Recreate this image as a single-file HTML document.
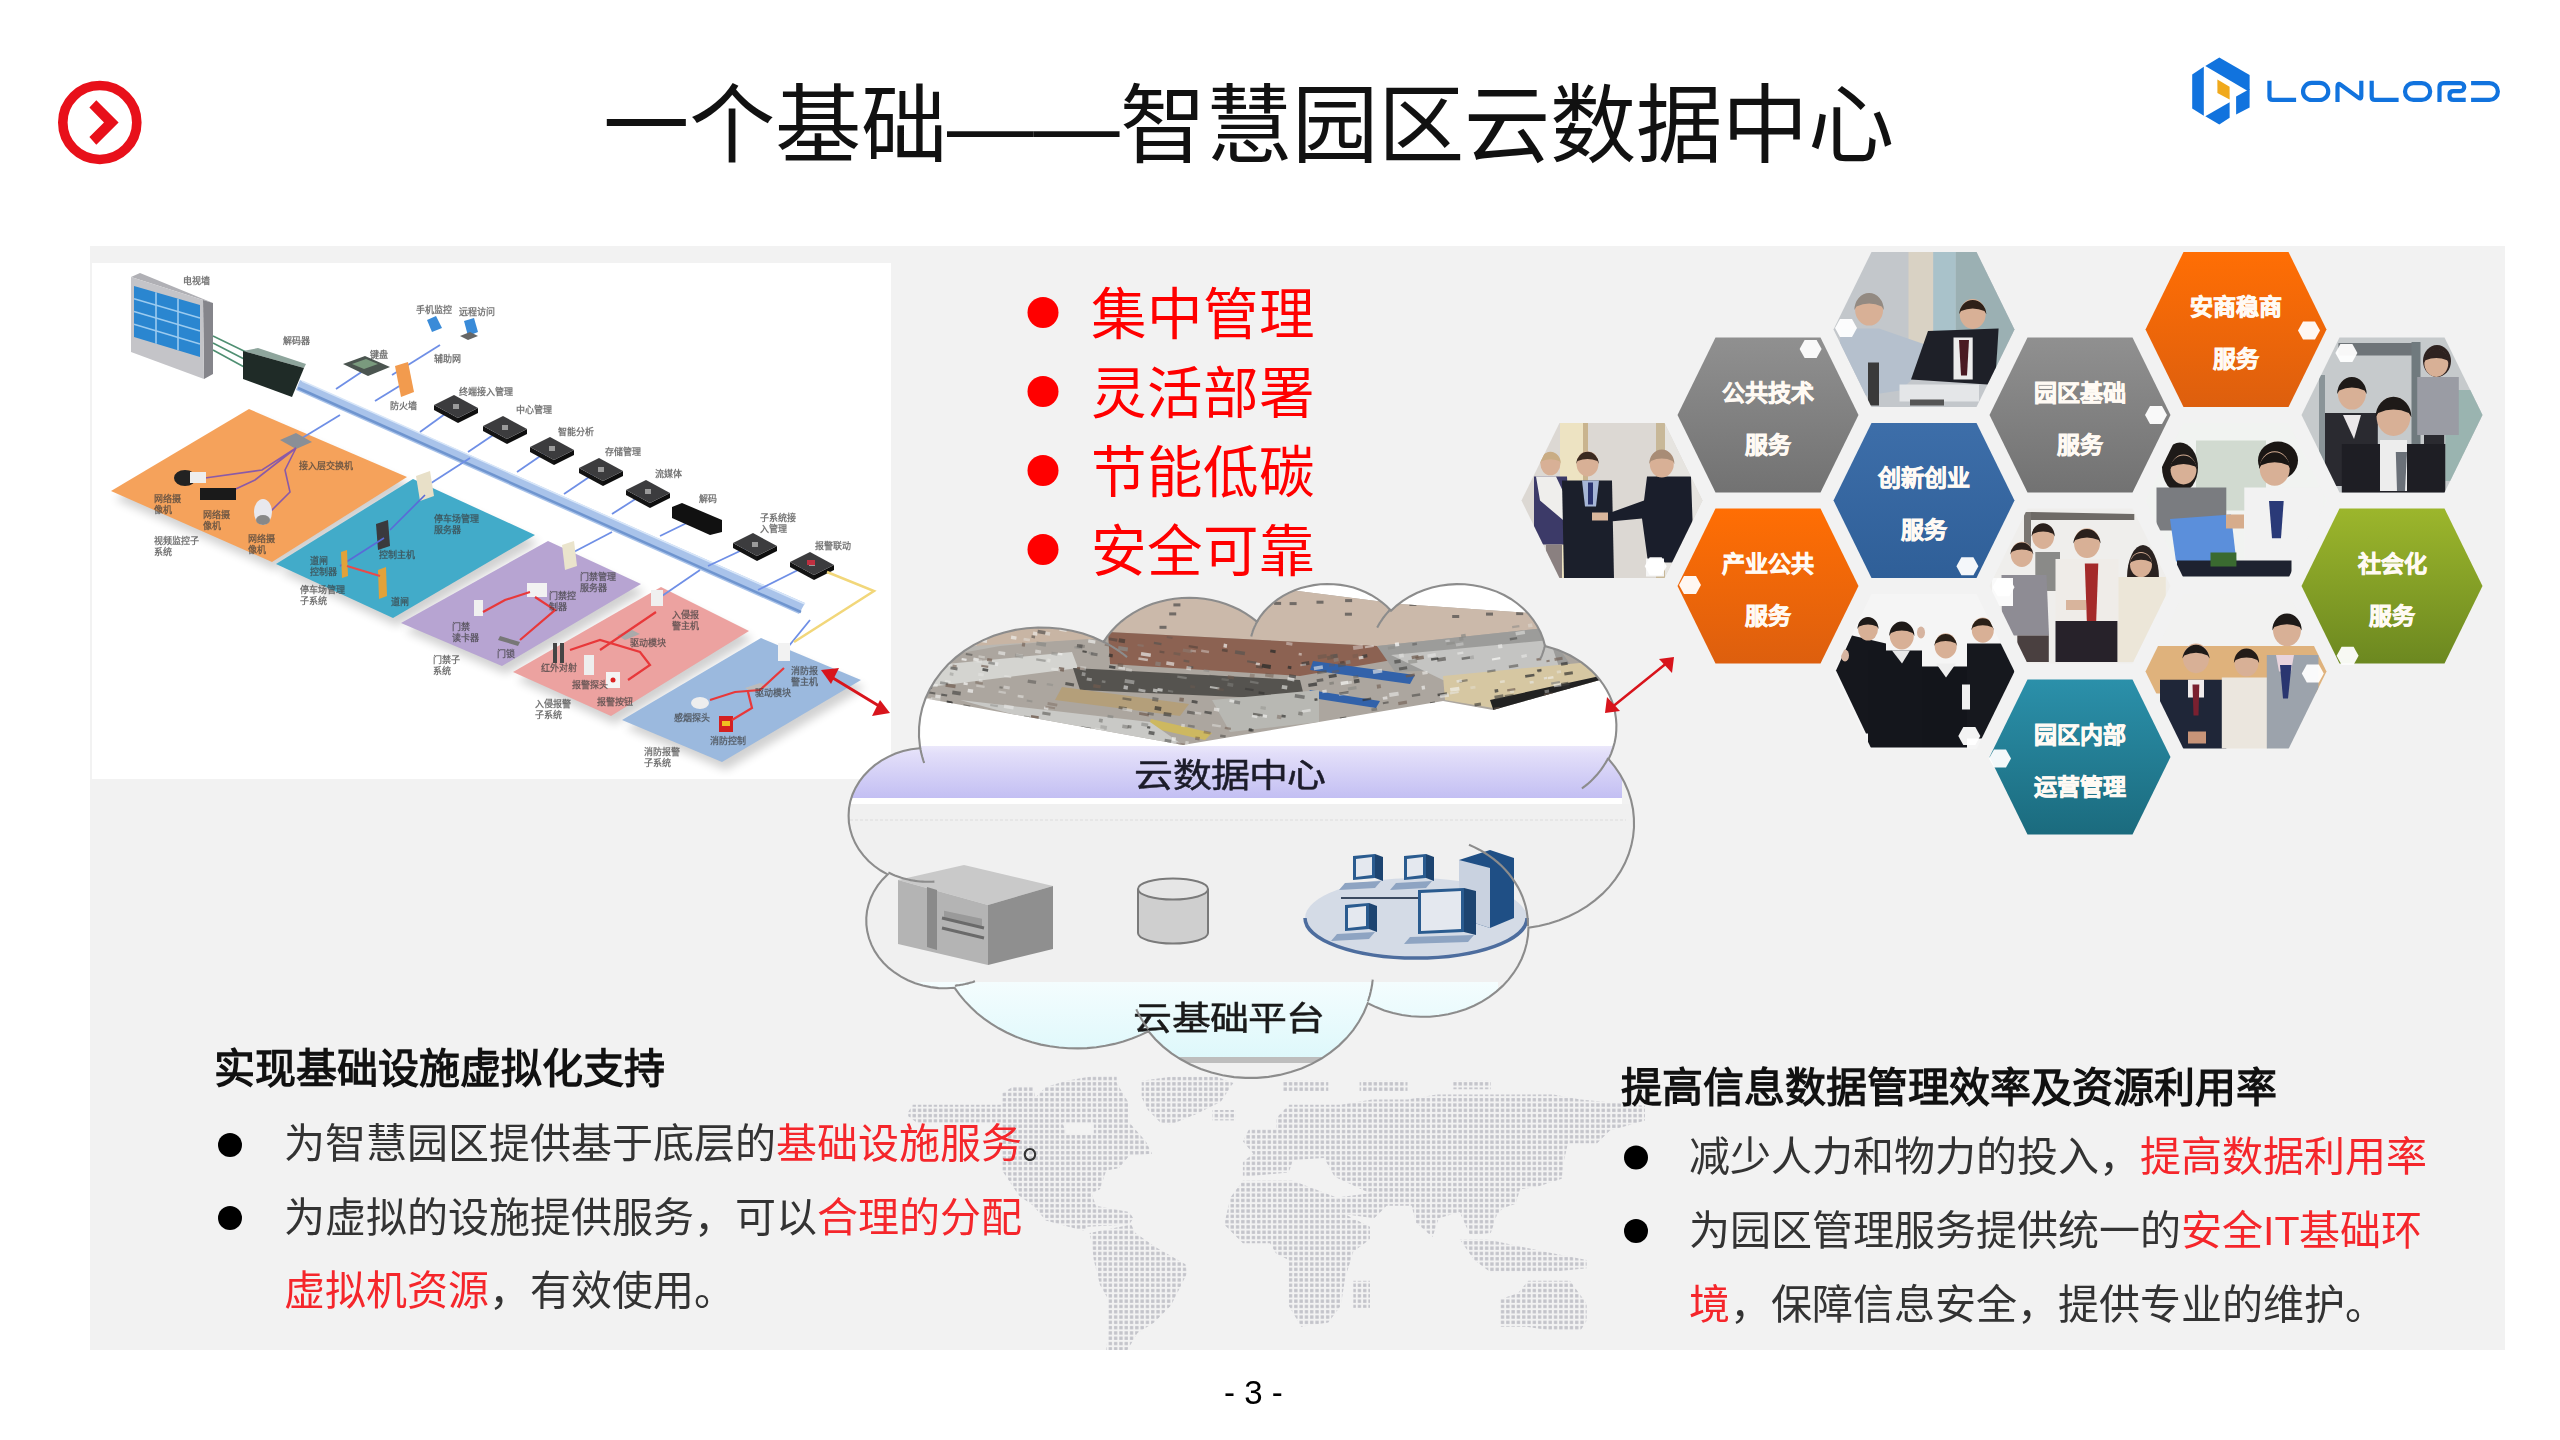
<!DOCTYPE html>
<html lang="zh-CN">
<head>
<meta charset="utf-8">
<style>
html,body{margin:0;padding:0;background:#fff;}
body{width:2560px;height:1440px;position:relative;overflow:hidden;font-family:"Liberation Sans",sans-serif;}
.t{position:absolute;white-space:nowrap;line-height:1;}
#title{left:603px;top:83px;font-size:86.3px;color:#111;}
.red{color:#ff0000;}
.rl{font-size:55.5px;color:#ff0000;left:1091px;}
.hd{font-size:41px;font-weight:bold;color:#111;}
.bd{font-size:41px;color:#333;}
.bd .r{color:#f5262b;}
#pg{left:1224px;top:1375.5px;font-size:33px;color:#000;}
svg{position:absolute;left:0;top:0;}
</style>
</head>
<body>
<svg id="bg" width="2560" height="1440" viewBox="0 0 2560 1440">
  <rect x="90" y="246" width="2415" height="1104" fill="#f2f2f2"/>
  <rect x="92" y="263" width="799" height="516" fill="#ffffff"/>
  <defs><pattern id="dots" x="0" y="0" width="5.3" height="5.3" patternUnits="userSpaceOnUse"><rect x="1" y="1" width="3.3" height="3.3" fill="#c3c4ca"/></pattern><clipPath id="panelclip"><rect x="90" y="246" width="2415" height="1104"/></clipPath></defs>
<g clip-path="url(#panelclip)" fill="url(#dots)">
<polygon points="908.3,1112.1 912.5,1104.8 1002.1,1104.8 1002.1,1093.3 1012.5,1087.1 1033.3,1087.1 1035.4,1097.5 1045.8,1087.1 1066.7,1080.8 1095.8,1075.6 1116.7,1075.6 1116.7,1082.9 1129.2,1103.8 1129.2,1122.5 1145.8,1141.2 1152.1,1153.8 1129.2,1155.8 1118.8,1168.3 1106.2,1170.4 1100.0,1189.2 1091.7,1193.3 1095.8,1205.8 1129.2,1212.1 1133.3,1218.3 1129.2,1224.6 1087.5,1226.7 1083.3,1230.8 1045.8,1220.4 1033.3,1205.8 1018.8,1195.4 1002.1,1170.4 1002.1,1122.5 916.7,1122.5 908.3,1116.2"/>
<polygon points="1141.7,1080.8 1170.8,1076.7 1216.7,1076.7 1233.3,1082.9 1220.8,1101.7 1195.8,1114.2 1170.8,1124.6 1160.4,1122.5 1147.9,1110.0 1141.7,1097.5"/>
<polygon points="1212.5,1110.0 1235.4,1110.0 1235.4,1120.4 1212.5,1120.4"/>
<polygon points="1089.6,1232.9 1131.2,1224.6 1135.4,1232.9 1156.2,1247.5 1185.4,1264.2 1187.5,1272.5 1179.2,1289.2 1170.8,1305.8 1154.2,1322.5 1137.5,1332.9 1127.1,1350.6 1106.2,1350.6 1108.3,1330.8 1108.3,1299.6 1100.0,1285.0 1093.8,1260.0 1091.7,1243.3"/>
<polygon points="1276.2,1118.3 1288.8,1104.8 1340.8,1104.8 1372.1,1099.6 1407.5,1099.6 1436.7,1094.4 1503.3,1094.4 1553.3,1094.4 1580.4,1099.6 1645.0,1105.8 1645.0,1120.4 1609.6,1130.8 1597.1,1143.3 1567.9,1143.3 1563.8,1162.1 1561.7,1178.8 1536.7,1187.1 1520.0,1189.2 1515.8,1203.8 1503.3,1207.9 1497.1,1214.2 1490.8,1232.9 1470.0,1235.0 1459.6,1212.1 1438.8,1218.3 1432.5,1237.1 1415.8,1222.5 1411.7,1205.8 1386.7,1205.8 1374.2,1218.3 1345.0,1214.2 1336.7,1197.5 1370.0,1193.3 1334.6,1176.7 1324.2,1157.9 1292.9,1160.0 1288.8,1172.5 1242.9,1176.7 1242.9,1162.1 1253.3,1153.8 1242.9,1141.2 1249.2,1128.8 1276.2,1128.8"/>
<polygon points="1242.9,1180.8 1292.9,1180.8 1336.7,1197.5 1345.0,1214.2 1370.0,1226.7 1370.0,1239.2 1353.3,1251.7 1345.0,1278.8 1340.8,1305.8 1328.3,1322.5 1301.2,1326.7 1288.8,1305.8 1288.8,1260.0 1276.2,1253.8 1270.0,1243.3 1242.9,1243.3 1230.4,1230.8 1224.2,1224.6 1230.4,1197.5"/>
<polygon points="1353.3,1280.8 1370.0,1280.8 1370.0,1307.9 1353.3,1307.9"/>
<polygon points="1459.6,1239.2 1486.7,1239.2 1545.0,1251.7 1586.7,1260.0 1586.7,1268.3 1545.0,1272.5 1490.8,1272.5 1474.2,1260.0"/>
<polygon points="1528.3,1280.8 1570.0,1280.8 1586.7,1303.8 1586.7,1320.4 1580.4,1330.8 1553.3,1330.8 1526.2,1326.7 1499.2,1326.7 1499.2,1299.6 1517.9,1293.3"/>
<polygon points="1282.5,1080.8 1328.3,1080.8 1328.3,1091.2 1282.5,1091.2"/>
<polygon points="1359.6,1080.8 1407.5,1080.8 1407.5,1091.2 1359.6,1091.2"/>
<polygon points="1453.3,1080.8 1490.8,1080.8 1490.8,1089.2 1453.3,1089.2"/>
</g>
<polygon points="1062.5,1122.5 1093.8,1122.5 1093.8,1135.0 1066.7,1135.0" fill="#f2f2f2"/>
  <defs><filter id="sh" x="-20%" y="-20%" width="140%" height="140%"><feGaussianBlur stdDeviation="5"/></filter><filter id="lb" x="-5%" y="-5%" width="110%" height="110%"><feGaussianBlur stdDeviation="0.45"/></filter></defs>
<polygon points="249.0,409.0 407.0,477.0 272.0,562.0 111.0,491.0" fill="#000" opacity="0.18" filter="url(#sh)" transform="translate(4,8)"/>
<polygon points="413.0,479.0 535.0,535.0 393.0,618.0 276.0,564.0" fill="#000" opacity="0.18" filter="url(#sh)" transform="translate(4,8)"/>
<polygon points="548.0,541.0 641.0,584.0 502.0,666.0 401.0,623.0" fill="#000" opacity="0.18" filter="url(#sh)" transform="translate(4,8)"/>
<polygon points="661.0,587.0 749.0,631.0 611.0,716.0 513.0,672.0" fill="#000" opacity="0.18" filter="url(#sh)" transform="translate(4,8)"/>
<polygon points="761.0,638.0 861.0,680.0 722.0,762.0 622.0,720.0" fill="#000" opacity="0.18" filter="url(#sh)" transform="translate(4,8)"/>
<polygon points="249.0,409.0 407.0,477.0 272.0,562.0 111.0,491.0" fill="#f5a25b"/>
<polygon points="413.0,479.0 535.0,535.0 393.0,618.0 276.0,564.0" fill="#42abc9"/>
<polygon points="548.0,541.0 641.0,584.0 502.0,666.0 401.0,623.0" fill="#b7a4d2"/>
<polygon points="661.0,587.0 749.0,631.0 611.0,716.0 513.0,672.0" fill="#eca2a0"/>
<polygon points="761.0,638.0 861.0,680.0 722.0,762.0 622.0,720.0" fill="#9bb9de"/>
<polygon points="131,277 140,273 213,303 203,300" fill="#b0b0b5"/>
<polygon points="203,300 213,303 213,374 204,379" fill="#85858b"/>
<polygon points="131,277 203,300 204,379 131,352" fill="#c4c4c8"/>
<polygon points="134,286 200,305 200,357 134,337" fill="#2a86d0"/>
<line x1="156.0" y1="292.3" x2="156.0" y2="343.7" stroke="#9ccbef" stroke-width="1.6"/>
<line x1="178.0" y1="298.7" x2="178.0" y2="350.3" stroke="#9ccbef" stroke-width="1.6"/>
<line x1="134" y1="298.8" x2="200" y2="318.0" stroke="#9ccbef" stroke-width="1.6"/>
<line x1="134" y1="311.5" x2="200" y2="331.0" stroke="#9ccbef" stroke-width="1.6"/>
<line x1="134" y1="324.2" x2="200" y2="344.0" stroke="#9ccbef" stroke-width="1.6"/>
<line x1="213" y1="336" x2="246" y2="352" stroke="#4f8f72" stroke-width="1.6"/>
<line x1="213" y1="343" x2="246" y2="360" stroke="#4f8f72" stroke-width="1.6"/>
<line x1="213" y1="350" x2="246" y2="368" stroke="#4f8f72" stroke-width="1.6"/>
<polygon points="243,351 258,348 306,364 304,368" fill="#8ea59c"/>
<polygon points="243,351 304,368 292,397 243,379" fill="#1f2b27"/>
<polygon points="300,380 805,603 799,614 296,390" fill="#a9c3ea"/>
<line x1="298" y1="388" x2="801" y2="612" stroke="#6f95cf" stroke-width="2.5"/>
<line x1="302" y1="381" x2="805" y2="604" stroke="#d8e6f8" stroke-width="1.5"/>
<line x1="363" y1="371" x2="336" y2="389" stroke="#6f8fe6" stroke-width="1.8"/>
<line x1="406" y1="382" x2="375" y2="401" stroke="#6f8fe6" stroke-width="1.8"/>
<line x1="440" y1="345" x2="392" y2="375" stroke="#6f8fe6" stroke-width="1.8"/>
<line x1="456" y1="406" x2="420" y2="432" stroke="#6f8fe6" stroke-width="1.8"/>
<line x1="505" y1="427" x2="468" y2="452" stroke="#6f8fe6" stroke-width="1.8"/>
<line x1="552" y1="448" x2="517" y2="472" stroke="#6f8fe6" stroke-width="1.8"/>
<line x1="601" y1="469" x2="564" y2="494" stroke="#6f8fe6" stroke-width="1.8"/>
<line x1="648" y1="491" x2="612" y2="514" stroke="#6f8fe6" stroke-width="1.8"/>
<line x1="697" y1="518" x2="660" y2="536" stroke="#6f8fe6" stroke-width="1.8"/>
<line x1="755" y1="544" x2="708" y2="566" stroke="#6f8fe6" stroke-width="1.8"/>
<line x1="812" y1="563" x2="758" y2="590" stroke="#6f8fe6" stroke-width="1.8"/>
<line x1="294" y1="443" x2="340" y2="415" stroke="#6f8fe6" stroke-width="1.8"/>
<line x1="425" y1="487" x2="470" y2="458" stroke="#6f8fe6" stroke-width="1.8"/>
<line x1="568" y1="555" x2="612" y2="532" stroke="#6f8fe6" stroke-width="1.8"/>
<line x1="659" y1="598" x2="700" y2="570" stroke="#6f8fe6" stroke-width="1.8"/>
<line x1="784" y1="652" x2="810" y2="620" stroke="#6f8fe6" stroke-width="1.8"/>
<polygon points="434,405 458,418 458,423 434,410" fill="#141414"/>
<polygon points="458,418 478,408 478,413 458,423" fill="#0e0e0e"/>
<polygon points="434,405 454,395 478,408 458,418" fill="#3c3c3e"/>
<rect x="453" y="404" width="6" height="5" fill="#9a9a9a"/>
<polygon points="483,426 507,439 507,444 483,431" fill="#141414"/>
<polygon points="507,439 527,429 527,434 507,444" fill="#0e0e0e"/>
<polygon points="483,426 503,416 527,429 507,439" fill="#3c3c3e"/>
<rect x="502" y="425" width="6" height="5" fill="#9a9a9a"/>
<polygon points="530,447 554,460 554,465 530,452" fill="#141414"/>
<polygon points="554,460 574,450 574,455 554,465" fill="#0e0e0e"/>
<polygon points="530,447 550,437 574,450 554,460" fill="#3c3c3e"/>
<rect x="549" y="446" width="6" height="5" fill="#9a9a9a"/>
<polygon points="579,468 603,481 603,486 579,473" fill="#141414"/>
<polygon points="603,481 623,471 623,476 603,486" fill="#0e0e0e"/>
<polygon points="579,468 599,458 623,471 603,481" fill="#3c3c3e"/>
<rect x="598" y="467" width="6" height="5" fill="#9a9a9a"/>
<polygon points="626,490 650,503 650,508 626,495" fill="#141414"/>
<polygon points="650,503 670,493 670,498 650,508" fill="#0e0e0e"/>
<polygon points="626,490 646,480 670,493 650,503" fill="#3c3c3e"/>
<rect x="645" y="489" width="6" height="5" fill="#9a9a9a"/>
<polygon points="733,543 757,556 757,561 733,548" fill="#141414"/>
<polygon points="757,556 777,546 777,551 757,561" fill="#0e0e0e"/>
<polygon points="733,543 753,533 777,546 757,556" fill="#3c3c3e"/>
<rect x="752" y="542" width="6" height="5" fill="#9a9a9a"/>
<polygon points="790,562 814,575 814,580 790,567" fill="#141414"/>
<polygon points="814,575 834,565 834,570 814,580" fill="#0e0e0e"/>
<polygon points="790,562 810,552 834,565 814,575" fill="#3c3c3e"/>
<rect x="809" y="561" width="6" height="5" fill="#9a9a9a"/>
<rect x="807" y="560" width="8" height="5" fill="#c03040"/>
<polygon points="672,507 682,503 722,520 722,532 710,535 672,518" fill="#111"/>
<polygon points="343,364 365,356 390,367 368,376" fill="#4b5550"/><polygon points="352,364 366,359 378,364 364,369" fill="#7a9a7e"/>
<polygon points="395,366 408,362 414,392 401,397" fill="#f29b4e"/>
<polygon points="427,320 436,316 442,328 432,332" fill="#3a8bd8"/>
<polygon points="464,321 474,318 478,332 468,336" fill="#3a8bd8"/><polygon points="460,336 470,332 478,336 468,340" fill="#666"/>
<polygon points="280,440 296,433 312,442 296,449" fill="#8a8f96"/>
<path d="M296,448 L262,470 L205,478 M296,448 L255,480 L225,494 M296,448 L285,470 L290,492 L270,512" stroke="#8a5aa8" stroke-width="1.6" fill="none"/>
<ellipse cx="185" cy="478" rx="11" ry="8" fill="#222"/><rect x="190" y="472" width="16" height="11" fill="#eee"/>
<rect x="200" y="488" width="36" height="12" fill="#1a1a1a"/>
<ellipse cx="263" cy="512" rx="9" ry="13" fill="#e8e8ee"/><ellipse cx="263" cy="520" rx="7" ry="5" fill="#888"/>
<polygon points="416,476 430,471 434,496 420,501" fill="#e8e0c8"/>
<polygon points="376,524 388,520 390,546 378,550" fill="#3a3a3e"/>
<path d="M384,538 L340,566 M425,495 L390,530" stroke="#5a6ad8" stroke-width="1.6" fill="none"/>
<polygon points="341,552 347,550 348,576 342,578" fill="#e2a23a"/><polygon points="378,570 386,567 387,596 379,599" fill="#e2a23a"/>
<path d="M347,566 L380,576" stroke="#e84a4a" stroke-width="2"/>
<polygon points="562,545 574,541 577,566 565,570" fill="#eae4cc"/>
<rect x="527" y="583" width="20" height="14" fill="#f2f2f2"/>
<rect x="474" y="600" width="9" height="16" fill="#f0f0f0"/>
<polygon points="500,636 520,642 518,646 498,640" fill="#777"/>
<path d="M483,612 L505,600 L530,592 M535,597 L555,610 L520,640" stroke="#e8383a" stroke-width="2.2" fill="none"/>
<rect x="553" y="643" width="4" height="20" fill="#444"/><rect x="560" y="643" width="4" height="20" fill="#444"/>
<rect x="584" y="655" width="10" height="20" fill="#eee"/>
<rect x="606" y="672" width="14" height="16" fill="#f4f4f4"/><circle cx="613" cy="680" r="2.5" fill="#d22"/>
<rect x="651" y="590" width="12" height="16" fill="#f0f0f0"/>
<polygon points="617,635 632,630 640,634 625,640" fill="#aaa"/>
<path d="M570,650 L600,640 L640,652 L650,665 L628,680 M600,650 L656,612" stroke="#e8383a" stroke-width="2.2" fill="none"/>
<rect x="778" y="643" width="12" height="18" fill="#f2f2f2"/>
<polygon points="745,688 760,683 770,687 752,692" fill="#bbb"/>
<ellipse cx="700" cy="703" rx="9" ry="6" fill="#eee"/>
<rect x="719" y="716" width="14" height="16" fill="#d42020"/><rect x="722" y="721" width="8" height="5" fill="#f0c020"/>
<path d="M710,700 L735,692 L760,690 L784,668 M748,692 L752,708 L732,720" stroke="#e8383a" stroke-width="2.2" fill="none"/>
<path d="M827,572 L874,591 L794,642" stroke="#f2d77a" stroke-width="2.5" fill="none"/>
<g filter="url(#lb)">
<text x="183" y="284" font-family="Liberation Sans, sans-serif" font-size="9" font-weight="bold" fill="#3c3c3c" opacity="0.7">电视墙</text>
<text x="283" y="344" font-family="Liberation Sans, sans-serif" font-size="9" font-weight="bold" fill="#3c3c3c" opacity="0.7">解码器</text>
<text x="370" y="358" font-family="Liberation Sans, sans-serif" font-size="9" font-weight="bold" fill="#3c3c3c" opacity="0.7">键盘</text>
<text x="416" y="313" font-family="Liberation Sans, sans-serif" font-size="9" font-weight="bold" fill="#3c3c3c" opacity="0.7">手机监控</text>
<text x="459" y="315" font-family="Liberation Sans, sans-serif" font-size="9" font-weight="bold" fill="#3c3c3c" opacity="0.7">远程访问</text>
<text x="434" y="362" font-family="Liberation Sans, sans-serif" font-size="9" font-weight="bold" fill="#3c3c3c" opacity="0.7">辅助网</text>
<text x="390" y="409" font-family="Liberation Sans, sans-serif" font-size="9" font-weight="bold" fill="#3c3c3c" opacity="0.7">防火墙</text>
<text x="459" y="395" font-family="Liberation Sans, sans-serif" font-size="9" font-weight="bold" fill="#3c3c3c" opacity="0.7">终端接入管理</text>
<text x="299" y="469" font-family="Liberation Sans, sans-serif" font-size="9" font-weight="bold" fill="#3c3c3c" opacity="0.7">接入层交换机</text>
<text x="154" y="502" font-family="Liberation Sans, sans-serif" font-size="9" font-weight="bold" fill="#3c3c3c" opacity="0.7">网络摄</text>
<text x="154" y="513" font-family="Liberation Sans, sans-serif" font-size="9" font-weight="bold" fill="#3c3c3c" opacity="0.7">像机</text>
<text x="203" y="518" font-family="Liberation Sans, sans-serif" font-size="9" font-weight="bold" fill="#3c3c3c" opacity="0.7">网络摄</text>
<text x="203" y="529" font-family="Liberation Sans, sans-serif" font-size="9" font-weight="bold" fill="#3c3c3c" opacity="0.7">像机</text>
<text x="248" y="542" font-family="Liberation Sans, sans-serif" font-size="9" font-weight="bold" fill="#3c3c3c" opacity="0.7">网络摄</text>
<text x="248" y="553" font-family="Liberation Sans, sans-serif" font-size="9" font-weight="bold" fill="#3c3c3c" opacity="0.7">像机</text>
<text x="154" y="544" font-family="Liberation Sans, sans-serif" font-size="9" font-weight="bold" fill="#3c3c3c" opacity="0.7">视频监控子</text>
<text x="154" y="555" font-family="Liberation Sans, sans-serif" font-size="9" font-weight="bold" fill="#3c3c3c" opacity="0.7">系统</text>
<text x="434" y="522" font-family="Liberation Sans, sans-serif" font-size="9" font-weight="bold" fill="#3c3c3c" opacity="0.7">停车场管理</text>
<text x="434" y="533" font-family="Liberation Sans, sans-serif" font-size="9" font-weight="bold" fill="#3c3c3c" opacity="0.7">服务器</text>
<text x="379" y="558" font-family="Liberation Sans, sans-serif" font-size="9" font-weight="bold" fill="#3c3c3c" opacity="0.7">控制主机</text>
<text x="310" y="564" font-family="Liberation Sans, sans-serif" font-size="9" font-weight="bold" fill="#3c3c3c" opacity="0.7">道闸</text>
<text x="310" y="575" font-family="Liberation Sans, sans-serif" font-size="9" font-weight="bold" fill="#3c3c3c" opacity="0.7">控制器</text>
<text x="516" y="413" font-family="Liberation Sans, sans-serif" font-size="9" font-weight="bold" fill="#3c3c3c" opacity="0.7">中心管理</text>
<text x="558" y="435" font-family="Liberation Sans, sans-serif" font-size="9" font-weight="bold" fill="#3c3c3c" opacity="0.7">智能分析</text>
<text x="605" y="455" font-family="Liberation Sans, sans-serif" font-size="9" font-weight="bold" fill="#3c3c3c" opacity="0.7">存储管理</text>
<text x="655" y="477" font-family="Liberation Sans, sans-serif" font-size="9" font-weight="bold" fill="#3c3c3c" opacity="0.7">流媒体</text>
<text x="699" y="502" font-family="Liberation Sans, sans-serif" font-size="9" font-weight="bold" fill="#3c3c3c" opacity="0.7">解码</text>
<text x="760" y="521" font-family="Liberation Sans, sans-serif" font-size="9" font-weight="bold" fill="#3c3c3c" opacity="0.7">子系统接</text>
<text x="760" y="532" font-family="Liberation Sans, sans-serif" font-size="9" font-weight="bold" fill="#3c3c3c" opacity="0.7">入管理</text>
<text x="815" y="549" font-family="Liberation Sans, sans-serif" font-size="9" font-weight="bold" fill="#3c3c3c" opacity="0.7">报警联动</text>
<text x="391" y="605" font-family="Liberation Sans, sans-serif" font-size="9" font-weight="bold" fill="#3c3c3c" opacity="0.7">道闸</text>
<text x="300" y="593" font-family="Liberation Sans, sans-serif" font-size="9" font-weight="bold" fill="#3c3c3c" opacity="0.7">停车场管理</text>
<text x="300" y="604" font-family="Liberation Sans, sans-serif" font-size="9" font-weight="bold" fill="#3c3c3c" opacity="0.7">子系统</text>
<text x="580" y="580" font-family="Liberation Sans, sans-serif" font-size="9" font-weight="bold" fill="#3c3c3c" opacity="0.7">门禁管理</text>
<text x="580" y="591" font-family="Liberation Sans, sans-serif" font-size="9" font-weight="bold" fill="#3c3c3c" opacity="0.7">服务器</text>
<text x="549" y="599" font-family="Liberation Sans, sans-serif" font-size="9" font-weight="bold" fill="#3c3c3c" opacity="0.7">门禁控</text>
<text x="549" y="610" font-family="Liberation Sans, sans-serif" font-size="9" font-weight="bold" fill="#3c3c3c" opacity="0.7">制器</text>
<text x="452" y="630" font-family="Liberation Sans, sans-serif" font-size="9" font-weight="bold" fill="#3c3c3c" opacity="0.7">门禁</text>
<text x="452" y="641" font-family="Liberation Sans, sans-serif" font-size="9" font-weight="bold" fill="#3c3c3c" opacity="0.7">读卡器</text>
<text x="497" y="657" font-family="Liberation Sans, sans-serif" font-size="9" font-weight="bold" fill="#3c3c3c" opacity="0.7">门锁</text>
<text x="433" y="663" font-family="Liberation Sans, sans-serif" font-size="9" font-weight="bold" fill="#3c3c3c" opacity="0.7">门禁子</text>
<text x="433" y="674" font-family="Liberation Sans, sans-serif" font-size="9" font-weight="bold" fill="#3c3c3c" opacity="0.7">系统</text>
<text x="672" y="618" font-family="Liberation Sans, sans-serif" font-size="9" font-weight="bold" fill="#3c3c3c" opacity="0.7">入侵报</text>
<text x="672" y="629" font-family="Liberation Sans, sans-serif" font-size="9" font-weight="bold" fill="#3c3c3c" opacity="0.7">警主机</text>
<text x="630" y="646" font-family="Liberation Sans, sans-serif" font-size="9" font-weight="bold" fill="#3c3c3c" opacity="0.7">驱动模块</text>
<text x="541" y="671" font-family="Liberation Sans, sans-serif" font-size="9" font-weight="bold" fill="#3c3c3c" opacity="0.7">红外对射</text>
<text x="572" y="688" font-family="Liberation Sans, sans-serif" font-size="9" font-weight="bold" fill="#3c3c3c" opacity="0.7">报警探头</text>
<text x="597" y="705" font-family="Liberation Sans, sans-serif" font-size="9" font-weight="bold" fill="#3c3c3c" opacity="0.7">报警按钮</text>
<text x="535" y="707" font-family="Liberation Sans, sans-serif" font-size="9" font-weight="bold" fill="#3c3c3c" opacity="0.7">入侵报警</text>
<text x="535" y="718" font-family="Liberation Sans, sans-serif" font-size="9" font-weight="bold" fill="#3c3c3c" opacity="0.7">子系统</text>
<text x="791" y="674" font-family="Liberation Sans, sans-serif" font-size="9" font-weight="bold" fill="#3c3c3c" opacity="0.7">消防报</text>
<text x="791" y="685" font-family="Liberation Sans, sans-serif" font-size="9" font-weight="bold" fill="#3c3c3c" opacity="0.7">警主机</text>
<text x="755" y="696" font-family="Liberation Sans, sans-serif" font-size="9" font-weight="bold" fill="#3c3c3c" opacity="0.7">驱动模块</text>
<text x="674" y="721" font-family="Liberation Sans, sans-serif" font-size="9" font-weight="bold" fill="#3c3c3c" opacity="0.7">感烟探头</text>
<text x="710" y="744" font-family="Liberation Sans, sans-serif" font-size="9" font-weight="bold" fill="#3c3c3c" opacity="0.7">消防控制</text>
<text x="644" y="755" font-family="Liberation Sans, sans-serif" font-size="9" font-weight="bold" fill="#3c3c3c" opacity="0.7">消防报警</text>
<text x="644" y="766" font-family="Liberation Sans, sans-serif" font-size="9" font-weight="bold" fill="#3c3c3c" opacity="0.7">子系统</text>
</g>
  <defs>
  <clipPath id="cc"><path d="M920.0,746.7 L919.0,736.9 L919.1,727.1 L920.2,717.4 L922.3,707.8 L925.5,698.4 L929.8,689.3 L934.9,680.6 L941.0,672.3 L948.0,664.6 L955.8,657.4 L964.3,650.9 L973.5,645.1 L983.3,640.1 L993.6,635.8 L1004.3,632.4 L1015.3,629.9 L1026.6,628.2 L1038.0,627.5 L1049.4,627.7 L1060.7,628.7 L1071.9,630.7 L1082.9,633.6 L1093.4,637.3 L1103.5,641.9 L1107.3,636.3 L1111.6,631.0 L1116.3,626.0 L1121.5,621.3 L1127.0,617.0 L1133.0,613.1 L1139.3,609.6 L1145.8,606.5 L1152.7,603.8 L1159.7,601.7 L1167.0,600.0 L1174.3,598.7 L1181.8,598.0 L1189.3,597.8 L1196.8,598.0 L1204.2,598.8 L1211.6,600.0 L1218.8,601.8 L1225.9,604.0 L1232.7,606.7 L1239.3,609.8 L1245.5,613.3 L1251.4,617.3 L1257.0,621.6 L1260.2,616.6 L1264.0,611.8 L1268.1,607.4 L1272.7,603.2 L1277.7,599.4 L1283.1,595.9 L1288.8,592.9 L1294.7,590.3 L1300.9,588.1 L1307.3,586.4 L1313.8,585.1 L1320.5,584.3 L1327.1,584.0 L1333.8,584.2 L1340.5,584.9 L1347.0,586.0 L1353.5,587.6 L1359.7,589.7 L1365.7,592.2 L1371.5,595.2 L1376.9,598.5 L1382.0,602.3 L1386.7,606.3 L1391.0,610.8 L1396.6,605.6 L1402.8,600.9 L1409.5,596.7 L1416.7,593.0 L1424.2,590.0 L1432.0,587.5 L1440.0,585.7 L1448.2,584.6 L1456.5,584.1 L1464.8,584.3 L1473.0,585.2 L1481.1,586.7 L1489.0,588.9 L1496.7,591.6 L1504.0,595.0 L1510.9,599.0 L1517.3,603.5 L1523.2,608.5 L1528.5,613.9 L1533.2,619.8 L1537.2,626.0 L1540.6,632.5 L1543.2,639.2 L1545.0,646.1 L1551.6,647.9 L1558.1,650.1 L1564.3,652.6 L1570.3,655.5 L1576.0,658.8 L1581.5,662.4 L1586.6,666.4 L1591.4,670.6 L1595.9,675.1 L1599.9,679.9 L1603.6,685.0 L1606.8,690.2 L1609.6,695.6 L1611.9,701.2 L1613.8,706.9 L1615.1,712.7 L1616.0,718.6 L1616.4,724.5 L1616.3,730.4 L1615.8,736.3 L1614.7,742.2 L1613.1,747.9 L1611.1,753.6 L1608.6,759.1 L1614.7,766.6 L1620.1,774.5 L1624.6,782.8 L1628.3,791.4 L1631.1,800.2 L1633.0,809.2 L1633.9,818.3 L1634.0,827.5 L1633.1,836.6 L1631.3,845.6 L1628.6,854.5 L1625.0,863.1 L1620.5,871.4 L1615.2,879.3 L1609.2,886.9 L1602.4,893.9 L1594.9,900.4 L1586.8,906.4 L1578.1,911.7 L1568.9,916.3 L1559.2,920.3 L1549.2,923.5 L1538.9,926.0 L1528.5,927.6 L1528.0,935.6 L1526.7,943.4 L1524.6,951.2 L1521.7,958.7 L1518.0,966.0 L1513.6,973.0 L1508.5,979.6 L1502.7,985.9 L1496.3,991.6 L1489.4,996.9 L1481.9,1001.6 L1474.0,1005.7 L1465.7,1009.2 L1457.0,1012.1 L1448.1,1014.3 L1439.0,1015.8 L1429.8,1016.7 L1420.5,1016.8 L1411.2,1016.2 L1402.1,1015.0 L1393.1,1013.0 L1384.3,1010.4 L1375.9,1007.1 L1367.8,1003.2 L1363.9,1012.5 L1359.0,1021.5 L1353.2,1030.1 L1346.5,1038.1 L1338.9,1045.6 L1330.5,1052.4 L1321.5,1058.5 L1311.8,1063.9 L1301.5,1068.4 L1290.8,1072.1 L1279.8,1074.9 L1268.5,1076.9 L1257.0,1077.9 L1245.4,1077.9 L1234.0,1077.1 L1222.6,1075.3 L1211.5,1072.6 L1200.8,1069.0 L1190.4,1064.5 L1180.7,1059.3 L1171.5,1053.3 L1163.0,1046.6 L1155.3,1039.2 L1148.5,1031.2 L1140.4,1035.1 L1132.0,1038.5 L1123.3,1041.4 L1114.5,1043.9 L1105.4,1045.8 L1096.3,1047.2 L1087.0,1048.1 L1077.8,1048.4 L1068.5,1048.2 L1059.2,1047.5 L1050.0,1046.3 L1040.9,1044.6 L1032.0,1042.3 L1023.3,1039.5 L1014.8,1036.3 L1006.6,1032.5 L998.7,1028.3 L991.1,1023.7 L983.9,1018.6 L977.1,1013.2 L970.8,1007.3 L964.9,1001.1 L959.5,994.6 L954.6,987.8 L946.6,988.3 L938.5,988.1 L930.6,987.1 L922.8,985.5 L915.2,983.2 L907.9,980.2 L901.0,976.7 L894.6,972.5 L888.7,967.9 L883.4,962.7 L878.7,957.1 L874.7,951.2 L871.5,944.9 L869.0,938.3 L867.3,931.6 L866.4,924.8 L866.3,917.9 L867.0,911.1 L868.6,904.3 L870.9,897.7 L874.0,891.4 L877.8,885.4 L882.4,879.7 L887.6,874.4 L880.7,870.5 L874.3,866.0 L868.5,861.0 L863.4,855.4 L858.9,849.5 L855.2,843.1 L852.3,836.5 L850.2,829.6 L848.9,822.6 L848.6,815.5 L849.0,808.4 L850.3,801.4 L852.5,794.5 L855.5,787.9 L859.3,781.6 L863.8,775.7 L869.0,770.2 L874.8,765.2 L881.3,760.7 L888.2,756.9 L895.5,753.6 L903.2,751.1 L911.2,749.3 L919.4,748.2Z"/></clipPath>
  <linearGradient id="gPurple" x1="0" y1="0" x2="0" y2="1">
    <stop offset="0" stop-color="#ebe8fb"/><stop offset="0.15" stop-color="#e2def9"/><stop offset="1" stop-color="#c3bff3"/>
  </linearGradient>
  <linearGradient id="gCyan" x1="0" y1="0" x2="0" y2="1">
    <stop offset="0" stop-color="#f4fdfe"/><stop offset="1" stop-color="#def8fb"/>
  </linearGradient>
</defs>
<g clip-path="url(#cc)">
  <rect x="840" y="570" width="800" height="180" fill="#ffffff"/>
  <rect x="840" y="746" width="782" height="52" fill="url(#gPurple)"/>
  <rect x="840" y="798" width="782" height="6" fill="#ffffff"/>
  <rect x="840" y="804" width="800" height="178" fill="#f0f0f0"/>
  <line x1="850" y1="820" x2="1626" y2="820" stroke="#dcdcdc" stroke-width="1.2" stroke-dasharray="3,2"/>
  <rect x="840" y="982" width="658" height="75" fill="url(#gCyan)"/>
  <rect x="840" y="1057" width="658" height="6" fill="#bdbdbd"/>
  <rect x="840" y="1063" width="800" height="20" fill="#f0f0f0"/>
  
  <clipPath id="cityc"><polygon points="923,698 1183,745 1319,722 1443,701 1493,710 1600,680 1640,640 1640,560 1550,560 1545,614 1400,604 1290,590 1290,560 900,560 900,690"/></clipPath>
<g clip-path="url(#cityc)">
<rect x="900" y="560" width="740" height="200" fill="#aca69f"/>
<polygon points="900,560 1110,560 1110,636 1000,646 900,664" fill="#b9b7b2"/>
<polygon points="950,628 1102,620 1106,638 940,648" fill="#c8b5a4"/>
<polygon points="905,668 1072,652 1078,668 905,690" fill="#d4d4d0"/>
<polygon points="1108,560 1545,560 1545,628 1377,646 1108,632" fill="#cbb9aa"/>
<polygon points="1108,632 1377,646 1392,660 1300,676 1110,664" fill="#8c6252"/>
<polygon points="1377,646 1545,628 1570,664 1395,672" fill="#9c9c9a"/>
<polygon points="1073,668 1300,680 1305,700 1080,690" fill="#55534f"/>
<polygon points="1062,687 1189,704 1180,716 1055,700" fill="#b49f7a"/>
<polygon points="1151,719 1212,733 1205,740 1148,727" fill="#cdb860"/>
<polygon points="960,700 1150,722 1183,745 1100,738" fill="#c9c9c6"/>
<polygon points="1313,661 1415,675 1410,684 1310,670" fill="#3262aa"/>
<polygon points="1310,690 1380,701 1376,708 1306,697" fill="#3262aa"/>
<polygon points="1391,655 1550,640 1560,670 1443,680" fill="#c4c4c2"/>
<polygon points="1443,676 1590,662 1597,681 1493,708 1445,700" fill="#d6c7a2"/>
<polygon points="1490,700 1600,676 1602,684 1494,712" fill="#222"/>
<polygon points="1212,700 1319,690 1319,722 1230,732" fill="#b8b8b3"/>
<rect x="941.8" y="663.7" width="3.3" height="2.9" fill="#3a3a38" opacity="0.46" transform="rotate(9 941.8 663.7)"/>
<rect x="1307.1" y="736.3" width="7.4" height="3.2" fill="#3a3a38" opacity="0.61" transform="rotate(-9 1307.1 736.3)"/>
<rect x="1185.6" y="741.1" width="3.3" height="3.7" fill="#e8e8e6" opacity="0.54" transform="rotate(9 1185.6 741.1)"/>
<rect x="1289.3" y="674.2" width="6.9" height="3.4" fill="#3a3a38" opacity="0.61" transform="rotate(9 1289.3 674.2)"/>
<rect x="942.9" y="614.0" width="7.8" height="2.9" fill="#e8e8e6" opacity="0.56" transform="rotate(9 942.9 614.0)"/>
<rect x="1564.9" y="639.7" width="4.7" height="2.4" fill="#8a8a86" opacity="0.46" transform="rotate(-9 1564.9 639.7)"/>
<rect x="1313.6" y="666.7" width="9.1" height="3.5" fill="#e8e8e6" opacity="0.62" transform="rotate(-9 1313.6 666.7)"/>
<rect x="952.7" y="664.5" width="4.2" height="2.7" fill="#6e5a4e" opacity="0.54" transform="rotate(9 952.7 664.5)"/>
<rect x="1301.8" y="710.2" width="8.7" height="2.7" fill="#e8e8e6" opacity="0.62" transform="rotate(-9 1301.8 710.2)"/>
<rect x="1317.5" y="655.3" width="8.9" height="3.9" fill="#6e5a4e" opacity="0.66" transform="rotate(-9 1317.5 655.3)"/>
<rect x="946.8" y="700.6" width="5.2" height="3.2" fill="#2e2e2c" opacity="0.72" transform="rotate(9 946.8 700.6)"/>
<rect x="1104.9" y="643.7" width="7.7" height="2.0" fill="#6e5a4e" opacity="0.51" transform="rotate(9 1104.9 643.7)"/>
<rect x="1339.9" y="661.5" width="4.5" height="2.6" fill="#2e2e2c" opacity="0.46" transform="rotate(-9 1339.9 661.5)"/>
<rect x="1181.5" y="723.8" width="3.6" height="2.9" fill="#f4f4f2" opacity="0.48" transform="rotate(9 1181.5 723.8)"/>
<rect x="998.6" y="651.0" width="6.9" height="3.4" fill="#e8e8e6" opacity="0.66" transform="rotate(9 998.6 651.0)"/>
<rect x="959.7" y="605.0" width="7.6" height="2.0" fill="#8a8a86" opacity="0.62" transform="rotate(9 959.7 605.0)"/>
<rect x="1089.2" y="580.7" width="5.9" height="2.7" fill="#f4f4f2" opacity="0.49" transform="rotate(9 1089.2 580.7)"/>
<rect x="990.4" y="721.8" width="9.7" height="3.3" fill="#2e2e2c" opacity="0.37" transform="rotate(9 990.4 721.8)"/>
<rect x="1547.7" y="708.7" width="9.1" height="3.6" fill="#6e5a4e" opacity="0.53" transform="rotate(-9 1547.7 708.7)"/>
<rect x="1183.8" y="659.5" width="5.8" height="2.4" fill="#555350" opacity="0.55" transform="rotate(9 1183.8 659.5)"/>
<rect x="979.1" y="679.1" width="3.7" height="3.1" fill="#f4f4f2" opacity="0.40" transform="rotate(9 979.1 679.1)"/>
<rect x="1529.5" y="681.3" width="4.0" height="2.5" fill="#e8e8e6" opacity="0.62" transform="rotate(-9 1529.5 681.3)"/>
<rect x="1251.4" y="741.3" width="6.4" height="2.6" fill="#555350" opacity="0.40" transform="rotate(9 1251.4 741.3)"/>
<rect x="916.6" y="736.9" width="6.7" height="2.3" fill="#f4f4f2" opacity="0.76" transform="rotate(9 916.6 736.9)"/>
<rect x="1508.7" y="665.5" width="9.4" height="2.7" fill="#555350" opacity="0.59" transform="rotate(-9 1508.7 665.5)"/>
<rect x="1460.9" y="634.4" width="4.6" height="3.6" fill="#8a8a86" opacity="0.73" transform="rotate(-9 1460.9 634.4)"/>
<rect x="1480.4" y="715.0" width="8.2" height="2.5" fill="#f4f4f2" opacity="0.57" transform="rotate(-9 1480.4 715.0)"/>
<rect x="1426.3" y="743.3" width="8.5" height="2.9" fill="#555350" opacity="0.66" transform="rotate(-9 1426.3 743.3)"/>
<rect x="1588.7" y="653.8" width="9.6" height="4.0" fill="#e8e8e6" opacity="0.39" transform="rotate(-9 1588.7 653.8)"/>
<rect x="973.6" y="657.6" width="5.4" height="3.0" fill="#f4f4f2" opacity="0.73" transform="rotate(9 973.6 657.6)"/>
<rect x="1245.2" y="687.7" width="8.6" height="2.2" fill="#2e2e2c" opacity="0.40" transform="rotate(9 1245.2 687.7)"/>
<rect x="1179.7" y="697.4" width="4.4" height="3.8" fill="#6e5a4e" opacity="0.71" transform="rotate(9 1179.7 697.4)"/>
<rect x="1139.4" y="712.1" width="9.8" height="2.8" fill="#6e5a4e" opacity="0.68" transform="rotate(9 1139.4 712.1)"/>
<rect x="961.1" y="606.2" width="10.0" height="2.1" fill="#f4f4f2" opacity="0.76" transform="rotate(9 961.1 606.2)"/>
<rect x="1495.1" y="741.8" width="7.6" height="2.7" fill="#f4f4f2" opacity="0.60" transform="rotate(-9 1495.1 741.8)"/>
<rect x="915.4" y="711.9" width="8.1" height="2.2" fill="#2e2e2c" opacity="0.77" transform="rotate(9 915.4 711.9)"/>
<rect x="1212.3" y="723.8" width="8.8" height="2.4" fill="#e8e8e6" opacity="0.45" transform="rotate(9 1212.3 723.8)"/>
<rect x="1260.8" y="706.0" width="5.3" height="3.1" fill="#8a8a86" opacity="0.41" transform="rotate(9 1260.8 706.0)"/>
<rect x="1555.2" y="638.4" width="6.2" height="3.2" fill="#f4f4f2" opacity="0.54" transform="rotate(-9 1555.2 638.4)"/>
<rect x="1560.8" y="662.8" width="6.7" height="3.0" fill="#3a3a38" opacity="0.74" transform="rotate(-9 1560.8 662.8)"/>
<rect x="1459.1" y="680.4" width="8.4" height="2.3" fill="#555350" opacity="0.56" transform="rotate(-9 1459.1 680.4)"/>
<rect x="1422.1" y="671.8" width="5.3" height="3.0" fill="#f4f4f2" opacity="0.57" transform="rotate(-9 1422.1 671.8)"/>
<rect x="1459.1" y="725.7" width="3.4" height="2.4" fill="#3a3a38" opacity="0.70" transform="rotate(-9 1459.1 725.7)"/>
<rect x="1265.6" y="672.7" width="8.3" height="3.8" fill="#6e5a4e" opacity="0.50" transform="rotate(9 1265.6 672.7)"/>
<rect x="1600.8" y="680.0" width="4.4" height="2.6" fill="#f4f4f2" opacity="0.59" transform="rotate(-9 1600.8 680.0)"/>
<rect x="1244.2" y="735.3" width="7.9" height="3.8" fill="#e8e8e6" opacity="0.77" transform="rotate(9 1244.2 735.3)"/>
<rect x="1222.2" y="648.7" width="5.7" height="2.6" fill="#2e2e2c" opacity="0.46" transform="rotate(9 1222.2 648.7)"/>
<rect x="952.6" y="690.5" width="8.5" height="3.8" fill="#555350" opacity="0.77" transform="rotate(9 952.6 690.5)"/>
<rect x="1082.2" y="602.6" width="6.3" height="3.5" fill="#3a3a38" opacity="0.53" transform="rotate(9 1082.2 602.6)"/>
<rect x="1250.8" y="743.3" width="8.8" height="2.3" fill="#6e5a4e" opacity="0.80" transform="rotate(9 1250.8 743.3)"/>
<rect x="1190.7" y="649.5" width="5.5" height="2.2" fill="#e8e8e6" opacity="0.36" transform="rotate(9 1190.7 649.5)"/>
<rect x="1298.9" y="652.7" width="3.1" height="2.7" fill="#f4f4f2" opacity="0.48" transform="rotate(9 1298.9 652.7)"/>
<rect x="1095.8" y="729.5" width="4.3" height="3.5" fill="#8a8a86" opacity="0.54" transform="rotate(9 1095.8 729.5)"/>
<rect x="1556.2" y="715.1" width="4.8" height="2.3" fill="#f4f4f2" opacity="0.61" transform="rotate(-9 1556.2 715.1)"/>
<rect x="941.4" y="693.6" width="6.0" height="2.1" fill="#3a3a38" opacity="0.64" transform="rotate(9 941.4 693.6)"/>
<rect x="1521.2" y="654.9" width="5.4" height="3.1" fill="#e8e8e6" opacity="0.63" transform="rotate(-9 1521.2 654.9)"/>
<rect x="931.1" y="697.1" width="9.6" height="3.9" fill="#e8e8e6" opacity="0.37" transform="rotate(9 931.1 697.1)"/>
<rect x="1045.3" y="631.5" width="5.1" height="3.5" fill="#e8e8e6" opacity="0.55" transform="rotate(9 1045.3 631.5)"/>
<rect x="1478.6" y="744.1" width="3.3" height="2.0" fill="#f4f4f2" opacity="0.60" transform="rotate(-9 1478.6 744.1)"/>
<rect x="1036.4" y="658.3" width="9.5" height="2.2" fill="#8a8a86" opacity="0.64" transform="rotate(9 1036.4 658.3)"/>
<rect x="1372.7" y="670.1" width="9.2" height="3.9" fill="#e8e8e6" opacity="0.66" transform="rotate(-9 1372.7 670.1)"/>
<rect x="1607.4" y="636.5" width="8.8" height="3.4" fill="#2e2e2c" opacity="0.41" transform="rotate(-9 1607.4 636.5)"/>
<rect x="1612.4" y="742.0" width="8.9" height="2.0" fill="#2e2e2c" opacity="0.68" transform="rotate(-9 1612.4 742.0)"/>
<rect x="1084.0" y="606.9" width="3.6" height="3.7" fill="#8a8a86" opacity="0.58" transform="rotate(9 1084.0 606.9)"/>
<rect x="1599.1" y="678.8" width="7.8" height="2.1" fill="#555350" opacity="0.42" transform="rotate(-9 1599.1 678.8)"/>
<rect x="1592.5" y="740.5" width="6.8" height="2.5" fill="#e8e8e6" opacity="0.45" transform="rotate(-9 1592.5 740.5)"/>
<rect x="1031.7" y="635.3" width="3.6" height="2.6" fill="#2e2e2c" opacity="0.44" transform="rotate(9 1031.7 635.3)"/>
<rect x="1090.2" y="594.8" width="5.8" height="2.1" fill="#3a3a38" opacity="0.48" transform="rotate(9 1090.2 594.8)"/>
<rect x="1589.5" y="720.8" width="4.1" height="3.8" fill="#8a8a86" opacity="0.75" transform="rotate(-9 1589.5 720.8)"/>
<rect x="1421.4" y="686.1" width="3.3" height="3.7" fill="#f4f4f2" opacity="0.63" transform="rotate(-9 1421.4 686.1)"/>
<rect x="1428.4" y="714.0" width="4.0" height="3.0" fill="#f4f4f2" opacity="0.61" transform="rotate(-9 1428.4 714.0)"/>
<rect x="1394.3" y="711.7" width="8.0" height="3.9" fill="#2e2e2c" opacity="0.45" transform="rotate(-9 1394.3 711.7)"/>
<rect x="922.4" y="602.0" width="5.5" height="2.2" fill="#8a8a86" opacity="0.55" transform="rotate(9 922.4 602.0)"/>
<rect x="936.6" y="583.1" width="6.7" height="2.5" fill="#e8e8e6" opacity="0.35" transform="rotate(9 936.6 583.1)"/>
<rect x="1474.3" y="703.5" width="6.5" height="3.1" fill="#2e2e2c" opacity="0.59" transform="rotate(-9 1474.3 703.5)"/>
<rect x="1436.9" y="658.2" width="8.7" height="3.7" fill="#555350" opacity="0.68" transform="rotate(-9 1436.9 658.2)"/>
<rect x="1047.8" y="702.1" width="9.8" height="3.0" fill="#6e5a4e" opacity="0.38" transform="rotate(9 1047.8 702.1)"/>
<rect x="1555.5" y="627.4" width="3.3" height="3.3" fill="#555350" opacity="0.38" transform="rotate(-9 1555.5 627.4)"/>
<rect x="1006.1" y="621.9" width="8.2" height="2.6" fill="#f4f4f2" opacity="0.41" transform="rotate(9 1006.1 621.9)"/>
<rect x="1247.3" y="660.2" width="9.8" height="2.2" fill="#555350" opacity="0.65" transform="rotate(9 1247.3 660.2)"/>
<rect x="1109.4" y="665.2" width="6.3" height="2.9" fill="#3a3a38" opacity="0.80" transform="rotate(9 1109.4 665.2)"/>
<rect x="961.8" y="658.0" width="5.0" height="2.2" fill="#f4f4f2" opacity="0.79" transform="rotate(9 961.8 658.0)"/>
<rect x="1051.1" y="736.0" width="4.5" height="3.2" fill="#555350" opacity="0.69" transform="rotate(9 1051.1 736.0)"/>
<rect x="1088.5" y="639.3" width="7.2" height="3.3" fill="#e8e8e6" opacity="0.75" transform="rotate(9 1088.5 639.3)"/>
<rect x="1546.3" y="660.2" width="3.2" height="2.0" fill="#6e5a4e" opacity="0.66" transform="rotate(-9 1546.3 660.2)"/>
<rect x="1191.9" y="700.0" width="5.9" height="2.8" fill="#3a3a38" opacity="0.73" transform="rotate(9 1191.9 700.0)"/>
<rect x="901.3" y="703.9" width="8.9" height="2.2" fill="#555350" opacity="0.67" transform="rotate(9 901.3 703.9)"/>
<rect x="1549.1" y="627.8" width="5.6" height="2.8" fill="#8a8a86" opacity="0.62" transform="rotate(-9 1549.1 627.8)"/>
<rect x="1159.7" y="650.6" width="4.9" height="2.1" fill="#3a3a38" opacity="0.37" transform="rotate(9 1159.7 650.6)"/>
<rect x="1376.6" y="684.8" width="4.0" height="3.9" fill="#6e5a4e" opacity="0.58" transform="rotate(-9 1376.6 684.8)"/>
<rect x="1036.7" y="641.6" width="9.7" height="3.8" fill="#8a8a86" opacity="0.69" transform="rotate(9 1036.7 641.6)"/>
<rect x="1188.0" y="724.5" width="6.9" height="2.4" fill="#3a3a38" opacity="0.37" transform="rotate(9 1188.0 724.5)"/>
<rect x="1427.3" y="654.4" width="8.3" height="3.3" fill="#e8e8e6" opacity="0.57" transform="rotate(-9 1427.3 654.4)"/>
<rect x="1556.6" y="670.8" width="4.2" height="2.8" fill="#e8e8e6" opacity="0.48" transform="rotate(-9 1556.6 670.8)"/>
<rect x="1432.1" y="741.1" width="4.8" height="3.3" fill="#e8e8e6" opacity="0.57" transform="rotate(-9 1432.1 741.1)"/>
<rect x="1260.4" y="714.0" width="6.9" height="2.9" fill="#e8e8e6" opacity="0.80" transform="rotate(9 1260.4 714.0)"/>
<rect x="1038.5" y="595.0" width="5.4" height="2.2" fill="#555350" opacity="0.52" transform="rotate(9 1038.5 595.0)"/>
<rect x="914.5" y="723.7" width="5.7" height="3.5" fill="#555350" opacity="0.52" transform="rotate(9 914.5 723.7)"/>
<rect x="1099.8" y="739.7" width="3.9" height="3.0" fill="#2e2e2c" opacity="0.71" transform="rotate(9 1099.8 739.7)"/>
<rect x="1545.7" y="643.5" width="7.5" height="2.9" fill="#e8e8e6" opacity="0.73" transform="rotate(-9 1545.7 643.5)"/>
<rect x="923.2" y="697.1" width="9.3" height="2.9" fill="#f4f4f2" opacity="0.57" transform="rotate(9 923.2 697.1)"/>
<rect x="952.7" y="733.5" width="9.5" height="3.1" fill="#6e5a4e" opacity="0.79" transform="rotate(9 952.7 733.5)"/>
<rect x="1078.9" y="598.0" width="4.1" height="3.0" fill="#2e2e2c" opacity="0.40" transform="rotate(9 1078.9 598.0)"/>
<rect x="1494.3" y="695.7" width="8.9" height="3.8" fill="#3a3a38" opacity="0.60" transform="rotate(-9 1494.3 695.7)"/>
<rect x="928.5" y="709.1" width="4.6" height="3.8" fill="#2e2e2c" opacity="0.67" transform="rotate(9 928.5 709.1)"/>
<rect x="1593.0" y="683.4" width="6.7" height="2.9" fill="#8a8a86" opacity="0.40" transform="rotate(-9 1593.0 683.4)"/>
<rect x="950.7" y="666.5" width="7.1" height="2.8" fill="#555350" opacity="0.71" transform="rotate(9 950.7 666.5)"/>
<rect x="900.8" y="668.7" width="10.0" height="2.6" fill="#e8e8e6" opacity="0.64" transform="rotate(9 900.8 668.7)"/>
<rect x="1536.3" y="658.4" width="4.6" height="2.5" fill="#6e5a4e" opacity="0.67" transform="rotate(-9 1536.3 658.4)"/>
<rect x="1258.8" y="691.3" width="5.9" height="2.5" fill="#2e2e2c" opacity="0.54" transform="rotate(9 1258.8 691.3)"/>
<rect x="1166.6" y="661.3" width="7.9" height="3.4" fill="#e8e8e6" opacity="0.66" transform="rotate(9 1166.6 661.3)"/>
<rect x="1042.6" y="711.5" width="8.2" height="3.0" fill="#555350" opacity="0.57" transform="rotate(9 1042.6 711.5)"/>
<rect x="1044.3" y="706.4" width="4.4" height="2.9" fill="#e8e8e6" opacity="0.69" transform="rotate(9 1044.3 706.4)"/>
<rect x="1112.4" y="737.1" width="6.5" height="2.4" fill="#555350" opacity="0.57" transform="rotate(9 1112.4 737.1)"/>
<rect x="1328.3" y="732.1" width="3.4" height="2.0" fill="#f4f4f2" opacity="0.41" transform="rotate(-9 1328.3 732.1)"/>
<rect x="937.3" y="589.9" width="5.8" height="3.8" fill="#e8e8e6" opacity="0.68" transform="rotate(9 937.3 589.9)"/>
<rect x="1618.2" y="733.7" width="5.3" height="2.4" fill="#f4f4f2" opacity="0.69" transform="rotate(-9 1618.2 733.7)"/>
<rect x="923.0" y="689.6" width="5.7" height="2.7" fill="#e8e8e6" opacity="0.55" transform="rotate(9 923.0 689.6)"/>
<rect x="978.4" y="592.9" width="3.6" height="2.8" fill="#3a3a38" opacity="0.60" transform="rotate(9 978.4 592.9)"/>
<rect x="1446.3" y="642.7" width="8.4" height="2.6" fill="#8a8a86" opacity="0.54" transform="rotate(-9 1446.3 642.7)"/>
<rect x="935.5" y="658.1" width="5.6" height="3.8" fill="#555350" opacity="0.50" transform="rotate(9 935.5 658.1)"/>
<rect x="1430.9" y="658.3" width="7.4" height="2.5" fill="#2e2e2c" opacity="0.70" transform="rotate(-9 1430.9 658.3)"/>
<rect x="929.3" y="585.8" width="3.4" height="3.8" fill="#e8e8e6" opacity="0.44" transform="rotate(9 929.3 585.8)"/>
<rect x="945.3" y="679.9" width="5.5" height="2.7" fill="#f4f4f2" opacity="0.37" transform="rotate(9 945.3 679.9)"/>
<rect x="1437.4" y="693.8" width="9.5" height="2.6" fill="#2e2e2c" opacity="0.69" transform="rotate(-9 1437.4 693.8)"/>
<rect x="1559.9" y="684.6" width="9.6" height="2.0" fill="#555350" opacity="0.40" transform="rotate(-9 1559.9 684.6)"/>
<rect x="1415.2" y="656.8" width="8.4" height="3.6" fill="#6e5a4e" opacity="0.72" transform="rotate(-9 1415.2 656.8)"/>
<rect x="995.5" y="661.9" width="3.1" height="3.9" fill="#e8e8e6" opacity="0.72" transform="rotate(9 995.5 661.9)"/>
<rect x="1456.4" y="680.2" width="5.3" height="2.6" fill="#e8e8e6" opacity="0.70" transform="rotate(-9 1456.4 680.2)"/>
<rect x="1328.9" y="664.5" width="5.7" height="2.3" fill="#6e5a4e" opacity="0.38" transform="rotate(-9 1328.9 664.5)"/>
<rect x="924.4" y="671.2" width="5.3" height="4.0" fill="#3a3a38" opacity="0.79" transform="rotate(9 924.4 671.2)"/>
<rect x="1090.7" y="593.9" width="3.7" height="3.0" fill="#2e2e2c" opacity="0.79" transform="rotate(9 1090.7 593.9)"/>
<rect x="1024.7" y="601.9" width="6.2" height="3.8" fill="#555350" opacity="0.69" transform="rotate(9 1024.7 601.9)"/>
<rect x="1509.8" y="689.6" width="3.8" height="3.7" fill="#e8e8e6" opacity="0.48" transform="rotate(-9 1509.8 689.6)"/>
<rect x="1092.7" y="621.9" width="4.8" height="2.9" fill="#555350" opacity="0.46" transform="rotate(9 1092.7 621.9)"/>
<rect x="1010.4" y="725.9" width="7.0" height="2.7" fill="#6e5a4e" opacity="0.46" transform="rotate(9 1010.4 725.9)"/>
<rect x="1077.1" y="666.8" width="7.5" height="2.2" fill="#6e5a4e" opacity="0.80" transform="rotate(9 1077.1 666.8)"/>
<rect x="973.7" y="658.3" width="8.7" height="3.7" fill="#e8e8e6" opacity="0.37" transform="rotate(9 973.7 658.3)"/>
<rect x="1036.5" y="740.5" width="7.1" height="3.9" fill="#e8e8e6" opacity="0.58" transform="rotate(9 1036.5 740.5)"/>
<rect x="1028.0" y="679.5" width="8.4" height="3.3" fill="#3a3a38" opacity="0.40" transform="rotate(9 1028.0 679.5)"/>
<rect x="1329.2" y="682.3" width="4.5" height="2.7" fill="#555350" opacity="0.37" transform="rotate(-9 1329.2 682.3)"/>
<rect x="1427.2" y="730.8" width="8.7" height="3.6" fill="#6e5a4e" opacity="0.66" transform="rotate(-9 1427.2 730.8)"/>
<rect x="1033.3" y="631.5" width="4.4" height="3.6" fill="#f4f4f2" opacity="0.57" transform="rotate(9 1033.3 631.5)"/>
<rect x="1193.9" y="711.3" width="7.6" height="2.3" fill="#f4f4f2" opacity="0.39" transform="rotate(9 1193.9 711.3)"/>
<rect x="1017.9" y="694.7" width="5.9" height="2.6" fill="#e8e8e6" opacity="0.54" transform="rotate(9 1017.9 694.7)"/>
<rect x="937.0" y="703.0" width="9.2" height="2.8" fill="#3a3a38" opacity="0.74" transform="rotate(9 937.0 703.0)"/>
<rect x="1617.6" y="640.0" width="4.4" height="3.5" fill="#555350" opacity="0.77" transform="rotate(-9 1617.6 640.0)"/>
<rect x="981.7" y="594.9" width="7.0" height="2.7" fill="#8a8a86" opacity="0.42" transform="rotate(9 981.7 594.9)"/>
<rect x="910.7" y="671.0" width="7.5" height="3.8" fill="#3a3a38" opacity="0.61" transform="rotate(9 910.7 671.0)"/>
<rect x="1567.6" y="701.6" width="4.2" height="2.7" fill="#555350" opacity="0.58" transform="rotate(-9 1567.6 701.6)"/>
<rect x="1253.2" y="712.8" width="9.8" height="2.4" fill="#555350" opacity="0.73" transform="rotate(9 1253.2 712.8)"/>
<rect x="931.3" y="730.6" width="5.2" height="3.2" fill="#2e2e2c" opacity="0.52" transform="rotate(9 931.3 730.6)"/>
<rect x="1551.0" y="682.4" width="8.8" height="2.3" fill="#8a8a86" opacity="0.74" transform="rotate(-9 1551.0 682.4)"/>
<rect x="1347.2" y="681.4" width="4.4" height="2.9" fill="#f4f4f2" opacity="0.45" transform="rotate(-9 1347.2 681.4)"/>
<rect x="1187.8" y="665.5" width="5.7" height="2.2" fill="#555350" opacity="0.79" transform="rotate(9 1187.8 665.5)"/>
<rect x="1536.4" y="719.0" width="7.7" height="3.3" fill="#e8e8e6" opacity="0.40" transform="rotate(-9 1536.4 719.0)"/>
<rect x="1331.7" y="670.8" width="7.4" height="2.6" fill="#6e5a4e" opacity="0.49" transform="rotate(-9 1331.7 670.8)"/>
<rect x="1079.5" y="644.2" width="5.6" height="3.0" fill="#555350" opacity="0.36" transform="rotate(9 1079.5 644.2)"/>
<rect x="1345.6" y="660.8" width="4.6" height="3.5" fill="#8a8a86" opacity="0.72" transform="rotate(-9 1345.6 660.8)"/>
<rect x="1502.3" y="713.7" width="5.8" height="2.1" fill="#e8e8e6" opacity="0.54" transform="rotate(-9 1502.3 713.7)"/>
<rect x="966.0" y="652.9" width="6.6" height="2.1" fill="#2e2e2c" opacity="0.41" transform="rotate(9 966.0 652.9)"/>
<rect x="1563.9" y="631.8" width="8.0" height="2.2" fill="#8a8a86" opacity="0.58" transform="rotate(-9 1563.9 631.8)"/>
<rect x="1172.1" y="736.9" width="4.0" height="3.7" fill="#f4f4f2" opacity="0.68" transform="rotate(9 1172.1 736.9)"/>
<rect x="1606.8" y="661.2" width="9.7" height="3.8" fill="#555350" opacity="0.66" transform="rotate(-9 1606.8 661.2)"/>
<rect x="1499.8" y="680.7" width="4.8" height="2.6" fill="#f4f4f2" opacity="0.47" transform="rotate(-9 1499.8 680.7)"/>
<rect x="1261.6" y="731.8" width="4.5" height="2.5" fill="#f4f4f2" opacity="0.46" transform="rotate(9 1261.6 731.8)"/>
<rect x="1190.5" y="685.0" width="4.9" height="2.7" fill="#6e5a4e" opacity="0.43" transform="rotate(9 1190.5 685.0)"/>
<rect x="1282.1" y="685.0" width="5.5" height="3.7" fill="#f4f4f2" opacity="0.58" transform="rotate(9 1282.1 685.0)"/>
<rect x="1395.9" y="727.9" width="4.8" height="3.1" fill="#8a8a86" opacity="0.53" transform="rotate(-9 1395.9 727.9)"/>
<rect x="1613.2" y="675.3" width="5.5" height="3.5" fill="#6e5a4e" opacity="0.45" transform="rotate(-9 1613.2 675.3)"/>
<rect x="1343.1" y="738.1" width="5.1" height="3.0" fill="#e8e8e6" opacity="0.64" transform="rotate(-9 1343.1 738.1)"/>
<rect x="1608.5" y="676.7" width="7.6" height="2.6" fill="#3a3a38" opacity="0.69" transform="rotate(-9 1608.5 676.7)"/>
<rect x="1059.6" y="628.0" width="7.4" height="2.8" fill="#e8e8e6" opacity="0.75" transform="rotate(9 1059.6 628.0)"/>
<rect x="995.1" y="617.5" width="7.6" height="2.0" fill="#3a3a38" opacity="0.61" transform="rotate(9 995.1 617.5)"/>
<rect x="1118.7" y="666.3" width="6.7" height="2.8" fill="#e8e8e6" opacity="0.62" transform="rotate(9 1118.7 666.3)"/>
<rect x="1047.0" y="682.9" width="6.3" height="2.3" fill="#8a8a86" opacity="0.46" transform="rotate(9 1047.0 682.9)"/>
<rect x="1007.5" y="595.8" width="7.5" height="3.7" fill="#8a8a86" opacity="0.47" transform="rotate(9 1007.5 595.8)"/>
<rect x="1484.3" y="739.6" width="3.4" height="3.6" fill="#e8e8e6" opacity="0.62" transform="rotate(-9 1484.3 739.6)"/>
<rect x="1316.5" y="679.3" width="6.6" height="3.0" fill="#555350" opacity="0.76" transform="rotate(-9 1316.5 679.3)"/>
<rect x="931.7" y="667.7" width="5.8" height="2.5" fill="#3a3a38" opacity="0.76" transform="rotate(9 931.7 667.7)"/>
<rect x="975.5" y="681.1" width="7.6" height="2.4" fill="#6e5a4e" opacity="0.44" transform="rotate(9 975.5 681.1)"/>
<rect x="1337.8" y="663.6" width="7.5" height="3.6" fill="#555350" opacity="0.58" transform="rotate(-9 1337.8 663.6)"/>
<rect x="945.9" y="683.3" width="10.0" height="3.4" fill="#6e5a4e" opacity="0.67" transform="rotate(9 945.9 683.3)"/>
<rect x="904.6" y="719.3" width="8.2" height="2.9" fill="#2e2e2c" opacity="0.64" transform="rotate(9 904.6 719.3)"/>
<rect x="1026.3" y="744.4" width="4.8" height="3.3" fill="#3a3a38" opacity="0.50" transform="rotate(9 1026.3 744.4)"/>
<rect x="1439.8" y="694.7" width="8.9" height="3.4" fill="#e8e8e6" opacity="0.64" transform="rotate(-9 1439.8 694.7)"/>
<rect x="1389.0" y="693.1" width="9.4" height="3.9" fill="#e8e8e6" opacity="0.64" transform="rotate(-9 1389.0 693.1)"/>
<rect x="1594.9" y="615.8" width="9.2" height="2.0" fill="#e8e8e6" opacity="0.76" transform="rotate(-9 1594.9 615.8)"/>
<rect x="1014.6" y="731.0" width="4.3" height="2.8" fill="#f4f4f2" opacity="0.46" transform="rotate(9 1014.6 731.0)"/>
<rect x="1553.4" y="684.1" width="7.8" height="3.3" fill="#f4f4f2" opacity="0.56" transform="rotate(-9 1553.4 684.1)"/>
<rect x="1504.6" y="695.1" width="9.0" height="2.9" fill="#2e2e2c" opacity="0.46" transform="rotate(-9 1504.6 695.1)"/>
<rect x="1537.0" y="710.2" width="5.7" height="3.2" fill="#f4f4f2" opacity="0.76" transform="rotate(-9 1537.0 710.2)"/>
<rect x="1004.1" y="584.4" width="3.7" height="3.9" fill="#e8e8e6" opacity="0.79" transform="rotate(9 1004.1 584.4)"/>
<rect x="999.6" y="686.2" width="3.3" height="2.1" fill="#3a3a38" opacity="0.38" transform="rotate(9 999.6 686.2)"/>
<rect x="1488.6" y="715.2" width="9.2" height="2.1" fill="#8a8a86" opacity="0.69" transform="rotate(-9 1488.6 715.2)"/>
<rect x="1412.1" y="643.3" width="4.7" height="2.4" fill="#3a3a38" opacity="0.37" transform="rotate(-9 1412.1 643.3)"/>
<rect x="1510.4" y="714.0" width="7.4" height="3.7" fill="#2e2e2c" opacity="0.63" transform="rotate(-9 1510.4 714.0)"/>
<rect x="1470.2" y="686.6" width="5.1" height="2.7" fill="#e8e8e6" opacity="0.36" transform="rotate(-9 1470.2 686.6)"/>
<rect x="1084.8" y="626.6" width="8.0" height="2.7" fill="#e8e8e6" opacity="0.70" transform="rotate(9 1084.8 626.6)"/>
<rect x="1333.4" y="658.6" width="5.0" height="3.5" fill="#8a8a86" opacity="0.54" transform="rotate(-9 1333.4 658.6)"/>
<rect x="1214.2" y="707.5" width="5.4" height="3.4" fill="#f4f4f2" opacity="0.60" transform="rotate(9 1214.2 707.5)"/>
<rect x="1414.4" y="716.6" width="7.0" height="2.6" fill="#6e5a4e" opacity="0.35" transform="rotate(-9 1414.4 716.6)"/>
<rect x="1045.5" y="705.8" width="9.8" height="2.0" fill="#6e5a4e" opacity="0.39" transform="rotate(9 1045.5 705.8)"/>
<rect x="1400.5" y="716.2" width="9.8" height="3.2" fill="#8a8a86" opacity="0.58" transform="rotate(-9 1400.5 716.2)"/>
<rect x="1487.0" y="734.8" width="4.6" height="2.3" fill="#2e2e2c" opacity="0.70" transform="rotate(-9 1487.0 734.8)"/>
<rect x="1253.0" y="743.5" width="6.9" height="2.2" fill="#e8e8e6" opacity="0.51" transform="rotate(9 1253.0 743.5)"/>
<rect x="1188.9" y="645.1" width="9.2" height="2.2" fill="#2e2e2c" opacity="0.36" transform="rotate(9 1188.9 645.1)"/>
<rect x="1048.4" y="623.4" width="9.3" height="3.0" fill="#6e5a4e" opacity="0.79" transform="rotate(9 1048.4 623.4)"/>
<rect x="1354.1" y="735.7" width="3.9" height="3.2" fill="#2e2e2c" opacity="0.69" transform="rotate(-9 1354.1 735.7)"/>
<rect x="1507.0" y="689.2" width="8.2" height="2.3" fill="#6e5a4e" opacity="0.66" transform="rotate(-9 1507.0 689.2)"/>
<rect x="1085.2" y="618.1" width="5.3" height="3.3" fill="#2e2e2c" opacity="0.46" transform="rotate(9 1085.2 618.1)"/>
<rect x="1037.9" y="629.7" width="7.9" height="3.7" fill="#555350" opacity="0.68" transform="rotate(9 1037.9 629.7)"/>
<rect x="1601.8" y="699.3" width="7.2" height="2.7" fill="#555350" opacity="0.50" transform="rotate(-9 1601.8 699.3)"/>
<rect x="1036.3" y="740.9" width="8.1" height="2.2" fill="#2e2e2c" opacity="0.40" transform="rotate(9 1036.3 740.9)"/>
<rect x="1176.6" y="742.3" width="8.6" height="3.5" fill="#6e5a4e" opacity="0.47" transform="rotate(9 1176.6 742.3)"/>
<rect x="978.7" y="730.4" width="5.0" height="3.8" fill="#6e5a4e" opacity="0.37" transform="rotate(9 978.7 730.4)"/>
<rect x="1187.3" y="710.5" width="7.9" height="3.0" fill="#2e2e2c" opacity="0.48" transform="rotate(9 1187.3 710.5)"/>
<rect x="915.9" y="622.4" width="8.2" height="2.0" fill="#555350" opacity="0.76" transform="rotate(9 915.9 622.4)"/>
<rect x="1209.6" y="674.7" width="8.2" height="2.8" fill="#555350" opacity="0.65" transform="rotate(9 1209.6 674.7)"/>
<rect x="1369.8" y="724.8" width="7.5" height="3.2" fill="#555350" opacity="0.66" transform="rotate(-9 1369.8 724.8)"/>
<rect x="1361.9" y="654.9" width="5.2" height="3.3" fill="#3a3a38" opacity="0.75" transform="rotate(-9 1361.9 654.9)"/>
<rect x="1074.5" y="646.0" width="8.0" height="2.3" fill="#8a8a86" opacity="0.54" transform="rotate(9 1074.5 646.0)"/>
<rect x="1227.7" y="682.6" width="5.9" height="3.4" fill="#8a8a86" opacity="0.43" transform="rotate(9 1227.7 682.6)"/>
<rect x="1371.2" y="708.4" width="5.7" height="3.0" fill="#3a3a38" opacity="0.37" transform="rotate(-9 1371.2 708.4)"/>
<rect x="1462.9" y="735.2" width="6.6" height="2.2" fill="#f4f4f2" opacity="0.56" transform="rotate(-9 1462.9 735.2)"/>
<rect x="1047.6" y="658.5" width="3.1" height="3.6" fill="#e8e8e6" opacity="0.58" transform="rotate(9 1047.6 658.5)"/>
<rect x="1195.5" y="736.4" width="4.5" height="3.4" fill="#6e5a4e" opacity="0.58" transform="rotate(9 1195.5 736.4)"/>
<rect x="1571.5" y="700.3" width="7.3" height="3.3" fill="#e8e8e6" opacity="0.47" transform="rotate(-9 1571.5 700.3)"/>
<rect x="1201.4" y="649.4" width="7.9" height="2.7" fill="#e8e8e6" opacity="0.40" transform="rotate(9 1201.4 649.4)"/>
<rect x="1118.5" y="646.1" width="9.7" height="3.9" fill="#8a8a86" opacity="0.78" transform="rotate(9 1118.5 646.1)"/>
<rect x="1362.4" y="698.9" width="8.7" height="2.3" fill="#2e2e2c" opacity="0.64" transform="rotate(-9 1362.4 698.9)"/>
<rect x="1489.5" y="714.7" width="6.3" height="2.6" fill="#f4f4f2" opacity="0.64" transform="rotate(-9 1489.5 714.7)"/>
<rect x="1461.5" y="657.5" width="8.5" height="2.5" fill="#2e2e2c" opacity="0.52" transform="rotate(-9 1461.5 657.5)"/>
<rect x="1082.6" y="650.3" width="4.3" height="2.0" fill="#2e2e2c" opacity="0.71" transform="rotate(9 1082.6 650.3)"/>
<rect x="1157.7" y="688.0" width="5.2" height="3.0" fill="#f4f4f2" opacity="0.64" transform="rotate(9 1157.7 688.0)"/>
<rect x="1568.7" y="721.0" width="3.4" height="3.7" fill="#e8e8e6" opacity="0.70" transform="rotate(-9 1568.7 721.0)"/>
<rect x="1001.1" y="717.2" width="7.4" height="2.0" fill="#3a3a38" opacity="0.44" transform="rotate(9 1001.1 717.2)"/>
<rect x="951.8" y="628.3" width="7.3" height="3.2" fill="#8a8a86" opacity="0.46" transform="rotate(9 951.8 628.3)"/>
<rect x="1458.9" y="637.2" width="4.1" height="3.8" fill="#8a8a86" opacity="0.59" transform="rotate(-9 1458.9 637.2)"/>
<rect x="1338.8" y="693.5" width="9.8" height="2.2" fill="#f4f4f2" opacity="0.70" transform="rotate(-9 1338.8 693.5)"/>
<rect x="1398.8" y="667.6" width="8.2" height="2.9" fill="#3a3a38" opacity="0.60" transform="rotate(-9 1398.8 667.6)"/>
<rect x="1090.4" y="618.6" width="4.0" height="3.0" fill="#3a3a38" opacity="0.57" transform="rotate(9 1090.4 618.6)"/>
<rect x="1551.9" y="695.6" width="4.7" height="2.3" fill="#f4f4f2" opacity="0.74" transform="rotate(-9 1551.9 695.6)"/>
<rect x="904.8" y="718.7" width="6.3" height="3.1" fill="#2e2e2c" opacity="0.48" transform="rotate(9 904.8 718.7)"/>
<rect x="1235.3" y="650.3" width="10.0" height="3.4" fill="#555350" opacity="0.64" transform="rotate(9 1235.3 650.3)"/>
<rect x="1339.0" y="692.6" width="9.5" height="2.7" fill="#3a3a38" opacity="0.58" transform="rotate(-9 1339.0 692.6)"/>
<rect x="1249.0" y="728.1" width="3.2" height="3.4" fill="#2e2e2c" opacity="0.41" transform="rotate(9 1249.0 728.1)"/>
<rect x="968.0" y="688.7" width="5.4" height="3.6" fill="#f4f4f2" opacity="0.70" transform="rotate(9 968.0 688.7)"/>
<rect x="1051.7" y="651.8" width="6.0" height="3.1" fill="#8a8a86" opacity="0.48" transform="rotate(9 1051.7 651.8)"/>
<rect x="1155.7" y="661.5" width="5.3" height="4.0" fill="#8a8a86" opacity="0.58" transform="rotate(9 1155.7 661.5)"/>
<rect x="1602.0" y="688.0" width="8.5" height="2.7" fill="#e8e8e6" opacity="0.67" transform="rotate(-9 1602.0 688.0)"/>
<rect x="991.9" y="740.5" width="3.6" height="4.0" fill="#6e5a4e" opacity="0.68" transform="rotate(9 991.9 740.5)"/>
<rect x="1537.6" y="670.0" width="3.3" height="2.6" fill="#3a3a38" opacity="0.37" transform="rotate(-9 1537.6 670.0)"/>
<rect x="1491.8" y="658.4" width="8.4" height="2.1" fill="#f4f4f2" opacity="0.76" transform="rotate(-9 1491.8 658.4)"/>
<rect x="1340.5" y="681.8" width="7.4" height="3.4" fill="#f4f4f2" opacity="0.74" transform="rotate(-9 1340.5 681.8)"/>
<rect x="959.8" y="586.5" width="7.4" height="3.3" fill="#555350" opacity="0.40" transform="rotate(9 959.8 586.5)"/>
<rect x="1030.5" y="586.1" width="8.4" height="3.8" fill="#2e2e2c" opacity="0.36" transform="rotate(9 1030.5 586.1)"/>
<rect x="1122.7" y="697.2" width="9.0" height="2.4" fill="#3a3a38" opacity="0.49" transform="rotate(9 1122.7 697.2)"/>
<rect x="1210.1" y="685.9" width="9.5" height="2.1" fill="#f4f4f2" opacity="0.58" transform="rotate(9 1210.1 685.9)"/>
<rect x="1493.8" y="707.7" width="5.9" height="3.4" fill="#6e5a4e" opacity="0.55" transform="rotate(-9 1493.8 707.7)"/>
<rect x="910.2" y="643.9" width="7.1" height="3.9" fill="#555350" opacity="0.56" transform="rotate(9 910.2 643.9)"/>
<rect x="1009.3" y="582.6" width="3.0" height="3.4" fill="#3a3a38" opacity="0.79" transform="rotate(9 1009.3 582.6)"/>
<rect x="987.4" y="657.9" width="4.9" height="3.1" fill="#6e5a4e" opacity="0.68" transform="rotate(9 987.4 657.9)"/>
<rect x="1034.9" y="588.3" width="8.4" height="3.4" fill="#8a8a86" opacity="0.42" transform="rotate(9 1034.9 588.3)"/>
<rect x="1301.4" y="662.2" width="7.7" height="3.8" fill="#3a3a38" opacity="0.67" transform="rotate(-9 1301.4 662.2)"/>
<rect x="908.2" y="582.4" width="7.6" height="3.6" fill="#3a3a38" opacity="0.53" transform="rotate(9 908.2 582.4)"/>
<rect x="1125.0" y="679.0" width="9.7" height="3.7" fill="#f4f4f2" opacity="0.38" transform="rotate(9 1125.0 679.0)"/>
<rect x="1164.6" y="674.9" width="6.1" height="3.4" fill="#555350" opacity="0.78" transform="rotate(9 1164.6 674.9)"/>
<rect x="984.0" y="737.4" width="4.1" height="3.6" fill="#6e5a4e" opacity="0.52" transform="rotate(9 984.0 737.4)"/>
<rect x="1466.1" y="735.9" width="8.5" height="3.1" fill="#e8e8e6" opacity="0.48" transform="rotate(-9 1466.1 735.9)"/>
<rect x="1347.7" y="687.4" width="8.6" height="3.2" fill="#8a8a86" opacity="0.62" transform="rotate(-9 1347.7 687.4)"/>
<rect x="1603.8" y="717.2" width="7.2" height="2.6" fill="#6e5a4e" opacity="0.79" transform="rotate(-9 1603.8 717.2)"/>
<rect x="1077.2" y="643.9" width="5.6" height="3.5" fill="#555350" opacity="0.71" transform="rotate(9 1077.2 643.9)"/>
<rect x="1104.0" y="580.3" width="4.8" height="2.8" fill="#f4f4f2" opacity="0.76" transform="rotate(9 1104.0 580.3)"/>
<rect x="1449.6" y="709.2" width="5.0" height="2.3" fill="#8a8a86" opacity="0.80" transform="rotate(-9 1449.6 709.2)"/>
<rect x="1005.8" y="740.9" width="8.6" height="3.1" fill="#8a8a86" opacity="0.76" transform="rotate(9 1005.8 740.9)"/>
<rect x="1298.6" y="711.6" width="4.4" height="3.5" fill="#555350" opacity="0.49" transform="rotate(9 1298.6 711.6)"/>
<rect x="941.4" y="645.3" width="8.0" height="3.9" fill="#f4f4f2" opacity="0.69" transform="rotate(9 941.4 645.3)"/>
<rect x="1470.0" y="655.9" width="3.6" height="3.6" fill="#8a8a86" opacity="0.38" transform="rotate(-9 1470.0 655.9)"/>
<rect x="1186.7" y="666.0" width="4.8" height="3.7" fill="#e8e8e6" opacity="0.56" transform="rotate(9 1186.7 666.0)"/>
<rect x="1038.5" y="609.8" width="7.9" height="2.7" fill="#f4f4f2" opacity="0.51" transform="rotate(9 1038.5 609.8)"/>
<rect x="1461.3" y="721.4" width="4.7" height="3.8" fill="#6e5a4e" opacity="0.52" transform="rotate(-9 1461.3 721.4)"/>
<rect x="976.4" y="684.4" width="8.5" height="2.3" fill="#f4f4f2" opacity="0.36" transform="rotate(9 976.4 684.4)"/>
<rect x="1102.0" y="680.2" width="3.7" height="2.4" fill="#8a8a86" opacity="0.74" transform="rotate(9 1102.0 680.2)"/>
<rect x="1250.1" y="673.6" width="4.8" height="3.6" fill="#6e5a4e" opacity="0.39" transform="rotate(9 1250.1 673.6)"/>
<rect x="1221.7" y="677.9" width="7.3" height="2.3" fill="#8a8a86" opacity="0.37" transform="rotate(9 1221.7 677.9)"/>
<rect x="1044.7" y="609.8" width="3.6" height="2.1" fill="#f4f4f2" opacity="0.52" transform="rotate(9 1044.7 609.8)"/>
<rect x="1408.0" y="660.3" width="8.9" height="3.8" fill="#8a8a86" opacity="0.62" transform="rotate(-9 1408.0 660.3)"/>
<rect x="1590.7" y="622.4" width="7.0" height="3.3" fill="#2e2e2c" opacity="0.58" transform="rotate(-9 1590.7 622.4)"/>
<rect x="1031.5" y="720.2" width="5.6" height="2.5" fill="#2e2e2c" opacity="0.45" transform="rotate(9 1031.5 720.2)"/>
<rect x="927.8" y="622.2" width="5.5" height="3.8" fill="#3a3a38" opacity="0.73" transform="rotate(9 927.8 622.2)"/>
<rect x="933.9" y="709.8" width="8.0" height="3.3" fill="#6e5a4e" opacity="0.38" transform="rotate(9 933.9 709.8)"/>
<rect x="1004.3" y="704.6" width="9.6" height="3.4" fill="#e8e8e6" opacity="0.62" transform="rotate(9 1004.3 704.6)"/>
<rect x="1217.7" y="687.7" width="6.3" height="2.7" fill="#6e5a4e" opacity="0.41" transform="rotate(9 1217.7 687.7)"/>
<rect x="1071.7" y="603.6" width="7.7" height="2.0" fill="#2e2e2c" opacity="0.76" transform="rotate(9 1071.7 603.6)"/>
<rect x="1439.3" y="708.4" width="9.7" height="3.9" fill="#6e5a4e" opacity="0.73" transform="rotate(-9 1439.3 708.4)"/>
<rect x="1352.4" y="654.6" width="5.4" height="3.6" fill="#6e5a4e" opacity="0.40" transform="rotate(-9 1352.4 654.6)"/>
<rect x="1225.0" y="726.7" width="6.1" height="2.3" fill="#6e5a4e" opacity="0.54" transform="rotate(9 1225.0 726.7)"/>
<rect x="1012.1" y="624.7" width="8.9" height="2.7" fill="#555350" opacity="0.47" transform="rotate(9 1012.1 624.7)"/>
<rect x="978.7" y="655.3" width="6.4" height="2.3" fill="#f4f4f2" opacity="0.38" transform="rotate(9 978.7 655.3)"/>
<rect x="1544.4" y="690.3" width="4.5" height="3.0" fill="#e8e8e6" opacity="0.40" transform="rotate(-9 1544.4 690.3)"/>
<rect x="1443.5" y="740.2" width="6.0" height="2.5" fill="#555350" opacity="0.77" transform="rotate(-9 1443.5 740.2)"/>
<rect x="970.2" y="627.8" width="9.3" height="2.1" fill="#2e2e2c" opacity="0.79" transform="rotate(9 970.2 627.8)"/>
<rect x="1003.9" y="685.6" width="6.1" height="3.0" fill="#f4f4f2" opacity="0.41" transform="rotate(9 1003.9 685.6)"/>
<rect x="901.4" y="717.3" width="6.7" height="2.4" fill="#6e5a4e" opacity="0.37" transform="rotate(9 901.4 717.3)"/>
<rect x="1030.1" y="719.2" width="6.7" height="2.5" fill="#555350" opacity="0.44" transform="rotate(9 1030.1 719.2)"/>
<rect x="957.1" y="594.4" width="7.3" height="3.0" fill="#e8e8e6" opacity="0.43" transform="rotate(9 957.1 594.4)"/>
<rect x="998.7" y="690.5" width="7.4" height="2.4" fill="#e8e8e6" opacity="0.44" transform="rotate(9 998.7 690.5)"/>
<rect x="947.3" y="700.9" width="5.9" height="3.4" fill="#3a3a38" opacity="0.58" transform="rotate(9 947.3 700.9)"/>
<rect x="1360.2" y="736.0" width="3.6" height="2.8" fill="#8a8a86" opacity="0.56" transform="rotate(-9 1360.2 736.0)"/>
<rect x="1527.8" y="623.9" width="4.3" height="3.7" fill="#e8e8e6" opacity="0.37" transform="rotate(-9 1527.8 623.9)"/>
<rect x="1405.6" y="674.9" width="9.0" height="2.7" fill="#6e5a4e" opacity="0.79" transform="rotate(-9 1405.6 674.9)"/>
<rect x="951.4" y="638.9" width="4.7" height="3.7" fill="#e8e8e6" opacity="0.70" transform="rotate(9 951.4 638.9)"/>
<rect x="1525.0" y="675.1" width="9.3" height="2.6" fill="#3a3a38" opacity="0.78" transform="rotate(-9 1525.0 675.1)"/>
<rect x="1256.3" y="664.7" width="6.7" height="3.1" fill="#3a3a38" opacity="0.46" transform="rotate(9 1256.3 664.7)"/>
<rect x="963.8" y="682.1" width="4.2" height="2.6" fill="#f4f4f2" opacity="0.72" transform="rotate(9 963.8 682.1)"/>
<rect x="921.7" y="595.9" width="7.9" height="2.4" fill="#3a3a38" opacity="0.73" transform="rotate(9 921.7 595.9)"/>
<rect x="1358.5" y="656.6" width="4.7" height="2.9" fill="#e8e8e6" opacity="0.74" transform="rotate(-9 1358.5 656.6)"/>
<rect x="988.6" y="661.4" width="6.5" height="2.6" fill="#3a3a38" opacity="0.40" transform="rotate(9 988.6 661.4)"/>
<rect x="1536.8" y="669.4" width="4.6" height="2.5" fill="#2e2e2c" opacity="0.61" transform="rotate(-9 1536.8 669.4)"/>
<rect x="1494.7" y="734.7" width="5.7" height="2.8" fill="#8a8a86" opacity="0.62" transform="rotate(-9 1494.7 734.7)"/>
<rect x="926.1" y="740.1" width="3.4" height="2.7" fill="#6e5a4e" opacity="0.46" transform="rotate(9 926.1 740.1)"/>
<rect x="1141.3" y="651.9" width="9.9" height="3.6" fill="#e8e8e6" opacity="0.72" transform="rotate(9 1141.3 651.9)"/>
<rect x="1272.5" y="738.0" width="9.5" height="2.5" fill="#6e5a4e" opacity="0.65" transform="rotate(9 1272.5 738.0)"/>
<rect x="908.3" y="598.0" width="4.3" height="2.6" fill="#555350" opacity="0.58" transform="rotate(9 908.3 598.0)"/>
<rect x="915.0" y="603.0" width="9.8" height="3.6" fill="#6e5a4e" opacity="0.63" transform="rotate(9 915.0 603.0)"/>
<rect x="1482.7" y="725.9" width="9.2" height="2.1" fill="#2e2e2c" opacity="0.63" transform="rotate(-9 1482.7 725.9)"/>
<rect x="1560.9" y="682.9" width="7.4" height="3.6" fill="#3a3a38" opacity="0.63" transform="rotate(-9 1560.9 682.9)"/>
<rect x="1080.4" y="665.9" width="6.0" height="3.9" fill="#e8e8e6" opacity="0.40" transform="rotate(9 1080.4 665.9)"/>
<rect x="943.4" y="738.2" width="9.4" height="3.8" fill="#3a3a38" opacity="0.56" transform="rotate(9 943.4 738.2)"/>
<rect x="989.2" y="601.7" width="5.1" height="2.8" fill="#e8e8e6" opacity="0.47" transform="rotate(9 989.2 601.7)"/>
<rect x="1429.9" y="702.2" width="5.0" height="2.9" fill="#2e2e2c" opacity="0.61" transform="rotate(-9 1429.9 702.2)"/>
<rect x="1411.5" y="656.0" width="6.8" height="3.2" fill="#6e5a4e" opacity="0.72" transform="rotate(-9 1411.5 656.0)"/>
<rect x="922.3" y="635.1" width="4.3" height="3.1" fill="#f4f4f2" opacity="0.53" transform="rotate(9 922.3 635.1)"/>
<rect x="1585.5" y="633.5" width="5.3" height="2.5" fill="#555350" opacity="0.48" transform="rotate(-9 1585.5 633.5)"/>
<rect x="948.1" y="723.8" width="6.1" height="2.1" fill="#6e5a4e" opacity="0.73" transform="rotate(9 948.1 723.8)"/>
<rect x="1155.0" y="705.9" width="6.6" height="4.0" fill="#2e2e2c" opacity="0.68" transform="rotate(9 1155.0 705.9)"/>
<rect x="1011.3" y="635.6" width="5.5" height="3.4" fill="#f4f4f2" opacity="0.62" transform="rotate(9 1011.3 635.6)"/>
<rect x="1099.3" y="718.4" width="3.7" height="3.7" fill="#8a8a86" opacity="0.80" transform="rotate(9 1099.3 718.4)"/>
<rect x="1093.5" y="684.1" width="7.4" height="3.4" fill="#6e5a4e" opacity="0.74" transform="rotate(9 1093.5 684.1)"/>
<rect x="903.1" y="706.3" width="7.1" height="3.0" fill="#f4f4f2" opacity="0.42" transform="rotate(9 903.1 706.3)"/>
<rect x="1512.0" y="626.1" width="7.3" height="2.2" fill="#8a8a86" opacity="0.55" transform="rotate(-9 1512.0 626.1)"/>
<rect x="1229.7" y="699.3" width="5.1" height="2.8" fill="#f4f4f2" opacity="0.62" transform="rotate(9 1229.7 699.3)"/>
<rect x="1437.0" y="743.3" width="5.7" height="2.6" fill="#f4f4f2" opacity="0.49" transform="rotate(-9 1437.0 743.3)"/>
<rect x="1004.4" y="674.9" width="7.1" height="2.2" fill="#e8e8e6" opacity="0.50" transform="rotate(9 1004.4 674.9)"/>
<rect x="1507.2" y="718.3" width="9.7" height="2.4" fill="#6e5a4e" opacity="0.75" transform="rotate(-9 1507.2 718.3)"/>
<rect x="1084.7" y="727.8" width="5.1" height="3.1" fill="#e8e8e6" opacity="0.59" transform="rotate(9 1084.7 727.8)"/>
<rect x="1618.8" y="665.4" width="6.6" height="3.4" fill="#6e5a4e" opacity="0.56" transform="rotate(-9 1618.8 665.4)"/>
<rect x="929.3" y="691.6" width="6.2" height="2.0" fill="#3a3a38" opacity="0.59" transform="rotate(9 929.3 691.6)"/>
<rect x="971.3" y="641.8" width="5.8" height="3.1" fill="#f4f4f2" opacity="0.42" transform="rotate(9 971.3 641.8)"/>
<rect x="1035.5" y="649.5" width="5.8" height="3.5" fill="#f4f4f2" opacity="0.50" transform="rotate(9 1035.5 649.5)"/>
<rect x="1281.7" y="714.6" width="4.2" height="2.6" fill="#3a3a38" opacity="0.72" transform="rotate(9 1281.7 714.6)"/>
<rect x="1544.0" y="693.8" width="8.7" height="4.0" fill="#6e5a4e" opacity="0.63" transform="rotate(-9 1544.0 693.8)"/>
<rect x="1277.3" y="714.7" width="4.5" height="3.8" fill="#6e5a4e" opacity="0.43" transform="rotate(9 1277.3 714.7)"/>
<rect x="1353.7" y="679.5" width="5.5" height="4.0" fill="#2e2e2c" opacity="0.68" transform="rotate(-9 1353.7 679.5)"/>
<rect x="902.0" y="697.3" width="6.9" height="3.8" fill="#6e5a4e" opacity="0.73" transform="rotate(9 902.0 697.3)"/>
<rect x="1322.1" y="690.2" width="4.4" height="3.0" fill="#f4f4f2" opacity="0.61" transform="rotate(-9 1322.1 690.2)"/>
<rect x="1527.2" y="727.8" width="6.6" height="2.3" fill="#555350" opacity="0.53" transform="rotate(-9 1527.2 727.8)"/>
<rect x="987.5" y="605.9" width="8.3" height="2.2" fill="#3a3a38" opacity="0.38" transform="rotate(9 987.5 605.9)"/>
<rect x="1582.4" y="660.9" width="6.3" height="2.9" fill="#8a8a86" opacity="0.38" transform="rotate(-9 1582.4 660.9)"/>
<rect x="909.0" y="707.1" width="5.3" height="3.4" fill="#e8e8e6" opacity="0.47" transform="rotate(9 909.0 707.1)"/>
<rect x="923.7" y="683.7" width="9.0" height="3.9" fill="#3a3a38" opacity="0.51" transform="rotate(9 923.7 683.7)"/>
<rect x="1223.9" y="643.6" width="3.4" height="3.8" fill="#f4f4f2" opacity="0.69" transform="rotate(9 1223.9 643.6)"/>
<rect x="931.6" y="589.0" width="4.7" height="2.4" fill="#555350" opacity="0.77" transform="rotate(9 931.6 589.0)"/>
<rect x="1515.4" y="631.9" width="9.3" height="3.6" fill="#e8e8e6" opacity="0.54" transform="rotate(-9 1515.4 631.9)"/>
<rect x="1081.4" y="726.3" width="9.9" height="2.1" fill="#2e2e2c" opacity="0.53" transform="rotate(9 1081.4 726.3)"/>
<rect x="1122.6" y="724.4" width="6.4" height="3.6" fill="#555350" opacity="0.39" transform="rotate(9 1122.6 724.4)"/>
<rect x="1022.3" y="642.5" width="3.1" height="3.8" fill="#6e5a4e" opacity="0.60" transform="rotate(9 1022.3 642.5)"/>
<rect x="982.7" y="668.1" width="5.7" height="2.8" fill="#3a3a38" opacity="0.78" transform="rotate(9 982.7 668.1)"/>
<rect x="1204.0" y="730.6" width="6.9" height="2.8" fill="#6e5a4e" opacity="0.48" transform="rotate(9 1204.0 730.6)"/>
<rect x="1070.8" y="585.8" width="7.6" height="2.7" fill="#555350" opacity="0.46" transform="rotate(9 1070.8 585.8)"/>
<rect x="993.5" y="612.4" width="6.8" height="3.6" fill="#f4f4f2" opacity="0.55" transform="rotate(9 993.5 612.4)"/>
<rect x="1502.1" y="712.8" width="4.1" height="2.7" fill="#2e2e2c" opacity="0.53" transform="rotate(-9 1502.1 712.8)"/>
<rect x="1353.1" y="675.8" width="5.1" height="3.0" fill="#555350" opacity="0.45" transform="rotate(-9 1353.1 675.8)"/>
<rect x="1547.7" y="676.9" width="5.6" height="2.5" fill="#f4f4f2" opacity="0.58" transform="rotate(-9 1547.7 676.9)"/>
<rect x="990.4" y="703.9" width="7.7" height="2.2" fill="#8a8a86" opacity="0.47" transform="rotate(9 990.4 703.9)"/>
<rect x="1455.7" y="643.5" width="7.6" height="3.1" fill="#e8e8e6" opacity="0.36" transform="rotate(-9 1455.7 643.5)"/>
<rect x="1411.7" y="694.6" width="8.4" height="2.5" fill="#555350" opacity="0.65" transform="rotate(-9 1411.7 694.6)"/>
<rect x="978.5" y="672.7" width="5.5" height="3.0" fill="#e8e8e6" opacity="0.44" transform="rotate(9 978.5 672.7)"/>
<rect x="1107.8" y="714.8" width="5.8" height="2.7" fill="#8a8a86" opacity="0.76" transform="rotate(9 1107.8 714.8)"/>
<rect x="1458.0" y="725.7" width="9.0" height="2.3" fill="#e8e8e6" opacity="0.43" transform="rotate(-9 1458.0 725.7)"/>
<rect x="1163.9" y="711.9" width="7.8" height="3.8" fill="#3a3a38" opacity="0.65" transform="rotate(9 1163.9 711.9)"/>
<rect x="1509.6" y="638.1" width="7.4" height="2.4" fill="#3a3a38" opacity="0.47" transform="rotate(-9 1509.6 638.1)"/>
<rect x="1387.7" y="646.8" width="7.3" height="2.9" fill="#8a8a86" opacity="0.49" transform="rotate(-9 1387.7 646.8)"/>
<rect x="1123.9" y="685.3" width="4.3" height="3.7" fill="#f4f4f2" opacity="0.57" transform="rotate(9 1123.9 685.3)"/>
<rect x="1275.0" y="732.7" width="7.7" height="3.2" fill="#3a3a38" opacity="0.40" transform="rotate(9 1275.0 732.7)"/>
<rect x="1449.9" y="688.1" width="9.3" height="3.8" fill="#f4f4f2" opacity="0.62" transform="rotate(-9 1449.9 688.1)"/>
<rect x="934.1" y="620.3" width="3.8" height="3.6" fill="#555350" opacity="0.70" transform="rotate(9 934.1 620.3)"/>
<rect x="1148.9" y="730.8" width="5.9" height="3.5" fill="#2e2e2c" opacity="0.63" transform="rotate(9 1148.9 730.8)"/>
<rect x="1059.0" y="667.0" width="5.4" height="3.9" fill="#6e5a4e" opacity="0.77" transform="rotate(9 1059.0 667.0)"/>
<rect x="1398.0" y="701.9" width="8.8" height="3.3" fill="#6e5a4e" opacity="0.58" transform="rotate(-9 1398.0 701.9)"/>
<rect x="1384.6" y="719.7" width="8.4" height="3.0" fill="#555350" opacity="0.37" transform="rotate(-9 1384.6 719.7)"/>
<rect x="1406.0" y="712.9" width="4.8" height="3.1" fill="#8a8a86" opacity="0.64" transform="rotate(-9 1406.0 712.9)"/>
<rect x="942.8" y="639.0" width="5.9" height="2.4" fill="#e8e8e6" opacity="0.41" transform="rotate(9 942.8 639.0)"/>
<rect x="1394.1" y="660.3" width="6.4" height="3.4" fill="#3a3a38" opacity="0.58" transform="rotate(-9 1394.1 660.3)"/>
<rect x="1220.4" y="734.4" width="5.5" height="2.6" fill="#2e2e2c" opacity="0.41" transform="rotate(9 1220.4 734.4)"/>
<rect x="1487.1" y="670.5" width="8.3" height="2.3" fill="#2e2e2c" opacity="0.42" transform="rotate(-9 1487.1 670.5)"/>
<rect x="1605.1" y="718.5" width="5.8" height="2.4" fill="#2e2e2c" opacity="0.48" transform="rotate(-9 1605.1 718.5)"/>
<rect x="943.4" y="626.3" width="4.4" height="3.4" fill="#6e5a4e" opacity="0.78" transform="rotate(9 943.4 626.3)"/>
<rect x="1016.2" y="653.4" width="7.0" height="2.6" fill="#f4f4f2" opacity="0.38" transform="rotate(9 1016.2 653.4)"/>
<rect x="907.8" y="743.7" width="8.3" height="2.2" fill="#2e2e2c" opacity="0.50" transform="rotate(9 907.8 743.7)"/>
<rect x="1364.5" y="737.9" width="6.4" height="3.6" fill="#e8e8e6" opacity="0.35" transform="rotate(-9 1364.5 737.9)"/>
<rect x="1562.1" y="686.3" width="7.4" height="3.9" fill="#2e2e2c" opacity="0.66" transform="rotate(-9 1562.1 686.3)"/>
<rect x="1164.9" y="738.7" width="6.7" height="3.8" fill="#2e2e2c" opacity="0.43" transform="rotate(9 1164.9 738.7)"/>
<rect x="1464.9" y="717.0" width="8.2" height="2.7" fill="#555350" opacity="0.64" transform="rotate(-9 1464.9 717.0)"/>
<rect x="998.2" y="731.8" width="8.9" height="2.5" fill="#3a3a38" opacity="0.37" transform="rotate(9 998.2 731.8)"/>
<rect x="1308.1" y="683.7" width="8.7" height="3.4" fill="#3a3a38" opacity="0.78" transform="rotate(-9 1308.1 683.7)"/>
<rect x="1256.0" y="662.4" width="4.1" height="2.6" fill="#f4f4f2" opacity="0.63" transform="rotate(9 1256.0 662.4)"/>
<rect x="1002.2" y="617.5" width="4.0" height="3.3" fill="#6e5a4e" opacity="0.39" transform="rotate(9 1002.2 617.5)"/>
<rect x="928.8" y="652.5" width="4.3" height="3.4" fill="#3a3a38" opacity="0.36" transform="rotate(9 928.8 652.5)"/>
<rect x="1339.7" y="717.5" width="6.6" height="2.3" fill="#3a3a38" opacity="0.65" transform="rotate(-9 1339.7 717.5)"/>
<rect x="1270.5" y="649.5" width="5.4" height="2.9" fill="#2e2e2c" opacity="0.78" transform="rotate(9 1270.5 649.5)"/>
<rect x="1026.9" y="699.6" width="5.7" height="2.0" fill="#8a8a86" opacity="0.60" transform="rotate(9 1026.9 699.6)"/>
<rect x="961.2" y="633.4" width="6.2" height="3.9" fill="#2e2e2c" opacity="0.74" transform="rotate(9 961.2 633.4)"/>
<rect x="1601.5" y="738.7" width="7.3" height="3.6" fill="#3a3a38" opacity="0.68" transform="rotate(-9 1601.5 738.7)"/>
<rect x="1138.7" y="688.6" width="7.0" height="2.8" fill="#e8e8e6" opacity="0.57" transform="rotate(9 1138.7 688.6)"/>
<rect x="1147.3" y="726.0" width="3.2" height="2.4" fill="#2e2e2c" opacity="0.68" transform="rotate(9 1147.3 726.0)"/>
<rect x="1316.9" y="671.6" width="9.6" height="2.7" fill="#555350" opacity="0.60" transform="rotate(-9 1316.9 671.6)"/>
<rect x="1030.0" y="726.8" width="6.8" height="2.2" fill="#8a8a86" opacity="0.73" transform="rotate(9 1030.0 726.8)"/>
<rect x="1382.6" y="697.0" width="4.6" height="2.9" fill="#f4f4f2" opacity="0.61" transform="rotate(-9 1382.6 697.0)"/>
<rect x="981.4" y="664.7" width="7.1" height="2.2" fill="#6e5a4e" opacity="0.66" transform="rotate(9 981.4 664.7)"/>
<rect x="1262.3" y="663.7" width="8.9" height="3.9" fill="#2e2e2c" opacity="0.80" transform="rotate(9 1262.3 663.7)"/>
<rect x="1497.8" y="644.7" width="4.2" height="3.9" fill="#f4f4f2" opacity="0.56" transform="rotate(-9 1497.8 644.7)"/>
<rect x="967.0" y="641.6" width="7.3" height="2.8" fill="#3a3a38" opacity="0.52" transform="rotate(9 967.0 641.6)"/>
<rect x="910.9" y="678.1" width="4.5" height="2.6" fill="#2e2e2c" opacity="0.41" transform="rotate(9 910.9 678.1)"/>
<rect x="1611.8" y="613.3" width="3.8" height="3.5" fill="#e8e8e6" opacity="0.43" transform="rotate(-9 1611.8 613.3)"/>
<rect x="1449.8" y="692.3" width="8.8" height="2.2" fill="#e8e8e6" opacity="0.58" transform="rotate(-9 1449.8 692.3)"/>
<rect x="1252.1" y="714.7" width="5.5" height="2.7" fill="#e8e8e6" opacity="0.71" transform="rotate(9 1252.1 714.7)"/>
<rect x="981.3" y="732.7" width="7.7" height="2.5" fill="#555350" opacity="0.66" transform="rotate(9 981.3 732.7)"/>
<rect x="915.3" y="743.1" width="6.1" height="3.6" fill="#6e5a4e" opacity="0.40" transform="rotate(9 915.3 743.1)"/>
<rect x="1394.8" y="642.8" width="4.0" height="3.8" fill="#f4f4f2" opacity="0.80" transform="rotate(-9 1394.8 642.8)"/>
<rect x="1616.0" y="660.4" width="6.4" height="2.1" fill="#8a8a86" opacity="0.37" transform="rotate(-9 1616.0 660.4)"/>
<rect x="1031.2" y="715.0" width="7.8" height="2.8" fill="#6e5a4e" opacity="0.79" transform="rotate(9 1031.2 715.0)"/>
<rect x="1398.9" y="654.0" width="4.6" height="3.9" fill="#f4f4f2" opacity="0.38" transform="rotate(-9 1398.9 654.0)"/>
<rect x="1543.7" y="677.2" width="3.3" height="2.3" fill="#e8e8e6" opacity="0.68" transform="rotate(-9 1543.7 677.2)"/>
<rect x="1138.6" y="657.3" width="9.6" height="2.6" fill="#e8e8e6" opacity="0.61" transform="rotate(9 1138.6 657.3)"/>
<rect x="1230.8" y="742.8" width="3.3" height="2.3" fill="#2e2e2c" opacity="0.41" transform="rotate(9 1230.8 742.8)"/>
<rect x="1613.8" y="638.9" width="7.0" height="3.2" fill="#555350" opacity="0.80" transform="rotate(-9 1613.8 638.9)"/>
<rect x="924.6" y="672.5" width="8.4" height="3.7" fill="#8a8a86" opacity="0.54" transform="rotate(9 924.6 672.5)"/>
<rect x="1470.2" y="710.9" width="4.7" height="3.6" fill="#555350" opacity="0.66" transform="rotate(-9 1470.2 710.9)"/>
<rect x="1118.9" y="705.9" width="8.2" height="3.0" fill="#2e2e2c" opacity="0.46" transform="rotate(9 1118.9 705.9)"/>
<rect x="1528.5" y="698.1" width="5.3" height="3.4" fill="#2e2e2c" opacity="0.50" transform="rotate(-9 1528.5 698.1)"/>
<rect x="1611.7" y="659.4" width="5.6" height="2.5" fill="#555350" opacity="0.80" transform="rotate(-9 1611.7 659.4)"/>
<rect x="1008.6" y="613.9" width="9.2" height="3.3" fill="#6e5a4e" opacity="0.55" transform="rotate(9 1008.6 613.9)"/>
<rect x="1021.6" y="590.9" width="5.1" height="2.6" fill="#2e2e2c" opacity="0.61" transform="rotate(9 1021.6 590.9)"/>
<rect x="1374.4" y="739.4" width="3.5" height="2.4" fill="#3a3a38" opacity="0.61" transform="rotate(-9 1374.4 739.4)"/>
<rect x="1119.1" y="638.3" width="6.3" height="3.9" fill="#2e2e2c" opacity="0.54" transform="rotate(9 1119.1 638.3)"/>
<rect x="1248.9" y="728.4" width="4.9" height="2.5" fill="#3a3a38" opacity="0.69" transform="rotate(9 1248.9 728.4)"/>
<rect x="914.4" y="587.9" width="6.1" height="3.8" fill="#e8e8e6" opacity="0.74" transform="rotate(9 914.4 587.9)"/>
<rect x="1428.4" y="738.9" width="7.2" height="2.2" fill="#8a8a86" opacity="0.72" transform="rotate(-9 1428.4 738.9)"/>
<rect x="1314.3" y="698.6" width="3.0" height="2.5" fill="#2e2e2c" opacity="0.74" transform="rotate(-9 1314.3 698.6)"/>
<rect x="1360.7" y="732.3" width="4.5" height="2.7" fill="#2e2e2c" opacity="0.36" transform="rotate(-9 1360.7 732.3)"/>
<rect x="1250.2" y="680.6" width="8.6" height="2.3" fill="#8a8a86" opacity="0.54" transform="rotate(9 1250.2 680.6)"/>
<rect x="932.7" y="683.3" width="5.3" height="3.0" fill="#f4f4f2" opacity="0.53" transform="rotate(9 932.7 683.3)"/>
<rect x="1577.0" y="724.1" width="3.2" height="2.6" fill="#2e2e2c" opacity="0.79" transform="rotate(-9 1577.0 724.1)"/>
<rect x="940.3" y="681.3" width="8.1" height="2.7" fill="#3a3a38" opacity="0.36" transform="rotate(9 940.3 681.3)"/>
<rect x="1051.5" y="667.4" width="8.9" height="2.7" fill="#e8e8e6" opacity="0.54" transform="rotate(9 1051.5 667.4)"/>
<rect x="1287.8" y="677.1" width="6.9" height="3.3" fill="#f4f4f2" opacity="0.61" transform="rotate(9 1287.8 677.1)"/>
<rect x="1065.6" y="682.1" width="8.7" height="3.0" fill="#3a3a38" opacity="0.70" transform="rotate(9 1065.6 682.1)"/>
<rect x="1122.7" y="707.5" width="9.8" height="2.9" fill="#e8e8e6" opacity="0.51" transform="rotate(9 1122.7 707.5)"/>
<rect x="1082.1" y="672.1" width="3.7" height="3.6" fill="#e8e8e6" opacity="0.42" transform="rotate(9 1082.1 672.1)"/>
<rect x="1352.8" y="646.1" width="9.9" height="3.9" fill="#f4f4f2" opacity="0.41" transform="rotate(-9 1352.8 646.1)"/>
<rect x="943.3" y="662.8" width="6.9" height="2.4" fill="#f4f4f2" opacity="0.51" transform="rotate(9 943.3 662.8)"/>
<rect x="1007.5" y="609.3" width="8.2" height="3.8" fill="#555350" opacity="0.59" transform="rotate(9 1007.5 609.3)"/>
<rect x="1152.6" y="697.1" width="6.1" height="3.7" fill="#555350" opacity="0.64" transform="rotate(9 1152.6 697.1)"/>
<rect x="1147.8" y="712.1" width="6.2" height="2.6" fill="#3a3a38" opacity="0.40" transform="rotate(9 1147.8 712.1)"/>
<rect x="1364.7" y="646.3" width="9.0" height="2.1" fill="#f4f4f2" opacity="0.52" transform="rotate(-9 1364.7 646.3)"/>
<rect x="1553.1" y="642.0" width="7.6" height="3.7" fill="#3a3a38" opacity="0.46" transform="rotate(-9 1553.1 642.0)"/>
<rect x="1088.9" y="651.6" width="4.6" height="2.4" fill="#8a8a86" opacity="0.54" transform="rotate(9 1088.9 651.6)"/>
<rect x="1100.7" y="725.1" width="6.5" height="4.0" fill="#8a8a86" opacity="0.42" transform="rotate(9 1100.7 725.1)"/>
<rect x="1521.4" y="723.4" width="4.9" height="3.5" fill="#8a8a86" opacity="0.49" transform="rotate(-9 1521.4 723.4)"/>
<rect x="963.7" y="580.6" width="9.1" height="2.5" fill="#e8e8e6" opacity="0.66" transform="rotate(9 963.7 580.6)"/>
<rect x="1330.3" y="654.8" width="7.1" height="3.8" fill="#555350" opacity="0.73" transform="rotate(-9 1330.3 654.8)"/>
<rect x="1457.2" y="652.4" width="6.0" height="2.3" fill="#e8e8e6" opacity="0.66" transform="rotate(-9 1457.2 652.4)"/>
<rect x="1118.0" y="662.9" width="5.5" height="3.5" fill="#6e5a4e" opacity="0.66" transform="rotate(9 1118.0 662.9)"/>
<rect x="965.0" y="636.0" width="9.4" height="3.4" fill="#e8e8e6" opacity="0.79" transform="rotate(9 965.0 636.0)"/>
<rect x="923.7" y="618.7" width="8.5" height="3.4" fill="#3a3a38" opacity="0.41" transform="rotate(9 923.7 618.7)"/>
<rect x="1328.5" y="674.9" width="7.9" height="3.5" fill="#3a3a38" opacity="0.80" transform="rotate(-9 1328.5 674.9)"/>
<rect x="1127.9" y="725.0" width="3.8" height="3.0" fill="#555350" opacity="0.59" transform="rotate(9 1127.9 725.0)"/>
<rect x="901.9" y="616.9" width="6.8" height="3.3" fill="#f4f4f2" opacity="0.58" transform="rotate(9 901.9 616.9)"/>
<rect x="980.9" y="638.3" width="6.5" height="3.8" fill="#e8e8e6" opacity="0.79" transform="rotate(9 980.9 638.3)"/>
<rect x="1514.3" y="740.4" width="4.6" height="2.1" fill="#2e2e2c" opacity="0.43" transform="rotate(-9 1514.3 740.4)"/>
<rect x="1090.5" y="591.4" width="3.3" height="3.0" fill="#6e5a4e" opacity="0.71" transform="rotate(9 1090.5 591.4)"/>
<rect x="1585.4" y="624.1" width="5.3" height="2.1" fill="#6e5a4e" opacity="0.59" transform="rotate(-9 1585.4 624.1)"/>
<rect x="1295.1" y="693.9" width="9.9" height="3.7" fill="#2e2e2c" opacity="0.47" transform="rotate(9 1295.1 693.9)"/>
<rect x="1203.8" y="669.1" width="5.7" height="2.3" fill="#8a8a86" opacity="0.52" transform="rotate(9 1203.8 669.1)"/>
<rect x="1337.6" y="732.8" width="4.8" height="3.2" fill="#6e5a4e" opacity="0.80" transform="rotate(-9 1337.6 732.8)"/>
<rect x="1494.4" y="689.5" width="3.6" height="3.2" fill="#3a3a38" opacity="0.76" transform="rotate(-9 1494.4 689.5)"/>
<rect x="935.6" y="694.5" width="5.3" height="3.3" fill="#f4f4f2" opacity="0.65" transform="rotate(9 935.6 694.5)"/>
<rect x="1228.0" y="675.3" width="6.3" height="3.3" fill="#6e5a4e" opacity="0.58" transform="rotate(9 1228.0 675.3)"/>
<rect x="1326.5" y="744.1" width="4.6" height="3.3" fill="#2e2e2c" opacity="0.74" transform="rotate(-9 1326.5 744.1)"/>
<rect x="1602.7" y="624.0" width="7.6" height="3.7" fill="#3a3a38" opacity="0.63" transform="rotate(-9 1602.7 624.0)"/>
<rect x="1554.3" y="658.1" width="8.1" height="3.0" fill="#6e5a4e" opacity="0.61" transform="rotate(-9 1554.3 658.1)"/>
<rect x="1445.2" y="640.1" width="4.4" height="2.3" fill="#e8e8e6" opacity="0.46" transform="rotate(-9 1445.2 640.1)"/>
<rect x="1024.1" y="715.6" width="6.2" height="3.3" fill="#8a8a86" opacity="0.74" transform="rotate(9 1024.1 715.6)"/>
<rect x="1369.5" y="730.2" width="5.3" height="2.7" fill="#8a8a86" opacity="0.72" transform="rotate(-9 1369.5 730.2)"/>
<rect x="988.6" y="605.4" width="4.8" height="2.2" fill="#e8e8e6" opacity="0.65" transform="rotate(9 988.6 605.4)"/>
<rect x="1109.2" y="653.6" width="3.8" height="3.3" fill="#2e2e2c" opacity="0.71" transform="rotate(9 1109.2 653.6)"/>
<rect x="1167.0" y="636.1" width="5.7" height="2.0" fill="#555350" opacity="0.35" transform="rotate(9 1167.0 636.1)"/>
<rect x="1087.0" y="677.4" width="5.1" height="3.1" fill="#e8e8e6" opacity="0.47" transform="rotate(9 1087.0 677.4)"/>
<rect x="1091.1" y="652.3" width="6.7" height="3.0" fill="#3a3a38" opacity="0.44" transform="rotate(9 1091.1 652.3)"/>
<rect x="1204.7" y="710.7" width="7.3" height="2.7" fill="#3a3a38" opacity="0.67" transform="rotate(9 1204.7 710.7)"/>
<rect x="1442.2" y="740.0" width="6.0" height="3.2" fill="#e8e8e6" opacity="0.51" transform="rotate(-9 1442.2 740.0)"/>
<rect x="1177.5" y="675.5" width="9.5" height="2.4" fill="#8a8a86" opacity="0.67" transform="rotate(9 1177.5 675.5)"/>
<rect x="1168.1" y="689.8" width="5.3" height="2.1" fill="#8a8a86" opacity="0.55" transform="rotate(9 1168.1 689.8)"/>
<rect x="1183.1" y="648.4" width="9.6" height="3.3" fill="#8a8a86" opacity="0.36" transform="rotate(9 1183.1 648.4)"/>
<rect x="1326.8" y="656.3" width="6.2" height="3.7" fill="#6e5a4e" opacity="0.80" transform="rotate(-9 1326.8 656.3)"/>
<rect x="1026.9" y="590.7" width="5.8" height="2.3" fill="#8a8a86" opacity="0.72" transform="rotate(9 1026.9 590.7)"/>
<rect x="1382.7" y="702.2" width="5.8" height="2.1" fill="#2e2e2c" opacity="0.48" transform="rotate(-9 1382.7 702.2)"/>
<rect x="1137.7" y="643.9" width="6.2" height="2.2" fill="#8a8a86" opacity="0.38" transform="rotate(9 1137.7 643.9)"/>
<rect x="963.5" y="704.3" width="7.0" height="2.1" fill="#2e2e2c" opacity="0.44" transform="rotate(9 963.5 704.3)"/>
<rect x="1141.6" y="722.4" width="6.9" height="3.5" fill="#8a8a86" opacity="0.61" transform="rotate(9 1141.6 722.4)"/>
<rect x="1618.6" y="714.8" width="9.1" height="2.3" fill="#e8e8e6" opacity="0.44" transform="rotate(-9 1618.6 714.8)"/>
<rect x="1288.0" y="665.8" width="3.6" height="2.8" fill="#2e2e2c" opacity="0.74" transform="rotate(9 1288.0 665.8)"/>
<rect x="1300.1" y="664.3" width="5.9" height="2.1" fill="#e8e8e6" opacity="0.46" transform="rotate(-9 1300.1 664.3)"/>
<rect x="1173.8" y="652.0" width="6.8" height="2.6" fill="#555350" opacity="0.37" transform="rotate(9 1173.8 652.0)"/>
<rect x="1286.5" y="641.7" width="6.2" height="3.0" fill="#f4f4f2" opacity="0.41" transform="rotate(9 1286.5 641.7)"/>
<rect x="1569.9" y="636.4" width="6.2" height="3.4" fill="#2e2e2c" opacity="0.37" transform="rotate(-9 1569.9 636.4)"/>
<rect x="1126.3" y="668.0" width="5.9" height="3.1" fill="#e8e8e6" opacity="0.37" transform="rotate(9 1126.3 668.0)"/>
<rect x="1058.2" y="652.5" width="4.4" height="2.4" fill="#f4f4f2" opacity="0.62" transform="rotate(9 1058.2 652.5)"/>
<rect x="1192.3" y="700.1" width="4.4" height="2.4" fill="#555350" opacity="0.55" transform="rotate(9 1192.3 700.1)"/>
<rect x="1564.1" y="672.6" width="8.6" height="3.0" fill="#2e2e2c" opacity="0.67" transform="rotate(-9 1564.1 672.6)"/>
<rect x="1439.0" y="712.3" width="6.7" height="2.3" fill="#8a8a86" opacity="0.76" transform="rotate(-9 1439.0 712.3)"/>
<rect x="1049.0" y="596.6" width="3.7" height="3.6" fill="#3a3a38" opacity="0.54" transform="rotate(9 1049.0 596.6)"/>
<rect x="1552.2" y="693.2" width="4.1" height="2.1" fill="#2e2e2c" opacity="0.41" transform="rotate(-9 1552.2 693.2)"/>
<rect x="1015.3" y="653.6" width="8.3" height="3.7" fill="#8a8a86" opacity="0.49" transform="rotate(9 1015.3 653.6)"/>
<rect x="1556.6" y="633.5" width="8.9" height="2.3" fill="#8a8a86" opacity="0.65" transform="rotate(-9 1556.6 633.5)"/>
<rect x="1066.2" y="740.7" width="5.3" height="2.3" fill="#e8e8e6" opacity="0.45" transform="rotate(9 1066.2 740.7)"/>
<rect x="1234.4" y="700.2" width="6.0" height="3.4" fill="#3a3a38" opacity="0.37" transform="rotate(9 1234.4 700.2)"/>
<rect x="1153.3" y="688.5" width="4.5" height="3.3" fill="#f4f4f2" opacity="0.59" transform="rotate(9 1153.3 688.5)"/>
<rect x="1109.3" y="637.4" width="8.3" height="3.0" fill="#3a3a38" opacity="0.44" transform="rotate(9 1109.3 637.4)"/>
<rect x="1101.6" y="630.0" width="7.1" height="3.5" fill="#555350" opacity="0.41" transform="rotate(9 1101.6 630.0)"/>
<rect x="1095.2" y="727.4" width="8.9" height="2.5" fill="#e8e8e6" opacity="0.36" transform="rotate(9 1095.2 727.4)"/>
<rect x="1331.1" y="739.6" width="5.4" height="3.9" fill="#2e2e2c" opacity="0.49" transform="rotate(-9 1331.1 739.6)"/>
<rect x="1023.8" y="637.8" width="6.4" height="2.7" fill="#e8e8e6" opacity="0.43" transform="rotate(9 1023.8 637.8)"/>
<rect x="950.0" y="672.3" width="3.7" height="3.1" fill="#8a8a86" opacity="0.42" transform="rotate(9 950.0 672.3)"/>
<rect x="928.5" y="675.6" width="5.9" height="3.4" fill="#6e5a4e" opacity="0.61" transform="rotate(9 928.5 675.6)"/>
<rect x="1154.1" y="641.8" width="7.6" height="2.3" fill="#555350" opacity="0.65" transform="rotate(9 1154.1 641.8)"/>
<rect x="964.8" y="580.8" width="7.5" height="3.7" fill="#e8e8e6" opacity="0.42" transform="rotate(9 964.8 580.8)"/>
<rect x="1159.5" y="625.8" width="7" height="3" fill="#4a4a48" opacity="0.7"/>
<rect x="1169.2" y="612.4" width="7" height="3" fill="#4a4a48" opacity="0.7"/>
<rect x="1345.1" y="599.1" width="7" height="3" fill="#4a4a48" opacity="0.7"/>
<rect x="1316.5" y="600.7" width="7" height="3" fill="#4a4a48" opacity="0.7"/>
<rect x="1344.9" y="612.7" width="7" height="3" fill="#4a4a48" opacity="0.7"/>
<rect x="1274.1" y="601.9" width="7" height="3" fill="#4a4a48" opacity="0.7"/>
<rect x="1289.6" y="602.1" width="7" height="3" fill="#4a4a48" opacity="0.7"/>
<rect x="1173.4" y="603.4" width="7" height="3" fill="#4a4a48" opacity="0.7"/>
<rect x="1486.0" y="612.6" width="7" height="3" fill="#4a4a48" opacity="0.7"/>
<rect x="1494.1" y="595.5" width="7" height="3" fill="#4a4a48" opacity="0.7"/>
<rect x="1516.2" y="612.1" width="7" height="3" fill="#4a4a48" opacity="0.7"/>
<rect x="1452.2" y="615.0" width="7" height="3" fill="#4a4a48" opacity="0.7"/>
<rect x="1409.4" y="603.0" width="7" height="3" fill="#4a4a48" opacity="0.7"/>
<rect x="1435.0" y="600.4" width="7" height="3" fill="#4a4a48" opacity="0.7"/>
</g>
  <!-- server -->
  <polygon points="898,880 964,865 1053,886 988,905" fill="#c9c9c9"/>
  <polygon points="898,880 988,905 988,965 898,944" fill="#b4b4b4"/>
  <polygon points="988,905 1053,886 1053,949 988,965" fill="#8f8f8f"/>
  <polygon points="927,887 937,890 937,950 927,947" fill="#8a8a8a"/>
  <rect x="944" y="910" width="38" height="8" fill="#9a9a9a" transform="skewY(12) translate(0,-200)"/>
  <path d="M942,918 L984,928 M942,928 L984,938" stroke="#6a6a6a" stroke-width="3"/>
  <!-- db -->
  <path d="M1138,889 L1138,933 A35,10.5 0 0 0 1208,933 L1208,889" fill="#cfcfcf" stroke="#7a7a7a" stroke-width="2"/>
  <ellipse cx="1173" cy="889" rx="35" ry="10.5" fill="#e6e6e6" stroke="#7a7a7a" stroke-width="2"/>
  <!-- network -->
  <ellipse cx="1416" cy="918" rx="111" ry="40" fill="#d4dbe6"/>
  <path d="M1305,918 A111,40 0 0 0 1527,918" fill="none" stroke="#4d6d9e" stroke-width="3.5"/>
  <line x1="1341" y1="898" x2="1428" y2="898" stroke="#3b4a60" stroke-width="2"/>
  <polygon points="1459,860 1490,850 1514,858 1514,918 1490,928 1459,918" fill="#1f4f85"/>
  <polygon points="1459,860 1490,868 1490,928 1459,918" fill="#c9d2e0"/>
  <polygon points="1353.0,856.0 1375.0,854.0 1375.0,878.0 1353.0,880.0" fill="#2a5b8f"/><polygon points="1375.0,854.0 1383.0,857.0 1383.0,881.0 1375.0,878.0" fill="#1d4470"/><polygon points="1356.0,859.0 1372.0,857.0 1372.0,875.0 1356.0,877.0" fill="#e4e8ef"/><polygon points="1345.0,883.0 1381.0,881.0 1375.0,888.0 1339.0,890.0" fill="#8ea4c2"/><polygon points="1404.0,856.0 1426.0,854.0 1426.0,878.0 1404.0,880.0" fill="#2a5b8f"/><polygon points="1426.0,854.0 1434.0,857.0 1434.0,881.0 1426.0,878.0" fill="#1d4470"/><polygon points="1407.0,859.0 1423.0,857.0 1423.0,875.0 1407.0,877.0" fill="#e4e8ef"/><polygon points="1396.0,883.0 1432.0,881.0 1426.0,888.0 1390.0,890.0" fill="#8ea4c2"/><polygon points="1345.0,905.0 1369.0,903.0 1369.0,929.0 1345.0,931.0" fill="#2a5b8f"/><polygon points="1369.0,903.0 1377.0,906.0 1377.0,932.0 1369.0,929.0" fill="#1d4470"/><polygon points="1348.0,908.0 1366.0,906.0 1366.0,926.0 1348.0,928.0" fill="#e4e8ef"/><polygon points="1337.0,934.0 1375.0,932.0 1369.0,939.0 1331.0,941.0" fill="#8ea4c2"/><polygon points="1418.0,890.0 1464.0,888.0 1464.0,932.0 1418.0,934.0" fill="#2a5b8f"/><polygon points="1464.0,888.0 1476.0,891.0 1476.0,935.0 1464.0,932.0" fill="#1d4470"/><polygon points="1421.0,893.0 1461.0,891.0 1461.0,929.0 1421.0,931.0" fill="#e4e8ef"/><polygon points="1410.0,937.0 1474.0,935.0 1468.0,942.0 1404.0,944.0" fill="#8ea4c2"/>


</g>
<text transform="translate(1230,787) scale(1.18,1)" x="0" y="0" text-anchor="middle" font-family="Liberation Sans, sans-serif" font-size="33" letter-spacing="-0.5" fill="#1c1c2a" stroke="#1c1c2a" stroke-width="0.5">云数据中心</text>
<text transform="translate(1229,1030) scale(1.18,1)" x="0" y="0" text-anchor="middle" font-family="Liberation Sans, sans-serif" font-size="33" letter-spacing="-0.5" fill="#1a1a1a" stroke="#1a1a1a" stroke-width="0.5">云基础平台</text>
<path d="M920.0,746.7 L919.0,736.9 L919.1,727.1 L920.2,717.4 L922.3,707.8 L925.5,698.4 L929.8,689.3 L934.9,680.6 L941.0,672.3 L948.0,664.6 L955.8,657.4 L964.3,650.9 L973.5,645.1 L983.3,640.1 L993.6,635.8 L1004.3,632.4 L1015.3,629.9 L1026.6,628.2 L1038.0,627.5 L1049.4,627.7 L1060.7,628.7 L1071.9,630.7 L1082.9,633.6 L1093.4,637.3 L1103.5,641.9 L1107.3,636.3 L1111.6,631.0 L1116.3,626.0 L1121.5,621.3 L1127.0,617.0 L1133.0,613.1 L1139.3,609.6 L1145.8,606.5 L1152.7,603.8 L1159.7,601.7 L1167.0,600.0 L1174.3,598.7 L1181.8,598.0 L1189.3,597.8 L1196.8,598.0 L1204.2,598.8 L1211.6,600.0 L1218.8,601.8 L1225.9,604.0 L1232.7,606.7 L1239.3,609.8 L1245.5,613.3 L1251.4,617.3 L1257.0,621.6 L1260.2,616.6 L1264.0,611.8 L1268.1,607.4 L1272.7,603.2 L1277.7,599.4 L1283.1,595.9 L1288.8,592.9 L1294.7,590.3 L1300.9,588.1 L1307.3,586.4 L1313.8,585.1 L1320.5,584.3 L1327.1,584.0 L1333.8,584.2 L1340.5,584.9 L1347.0,586.0 L1353.5,587.6 L1359.7,589.7 L1365.7,592.2 L1371.5,595.2 L1376.9,598.5 L1382.0,602.3 L1386.7,606.3 L1391.0,610.8 L1396.6,605.6 L1402.8,600.9 L1409.5,596.7 L1416.7,593.0 L1424.2,590.0 L1432.0,587.5 L1440.0,585.7 L1448.2,584.6 L1456.5,584.1 L1464.8,584.3 L1473.0,585.2 L1481.1,586.7 L1489.0,588.9 L1496.7,591.6 L1504.0,595.0 L1510.9,599.0 L1517.3,603.5 L1523.2,608.5 L1528.5,613.9 L1533.2,619.8 L1537.2,626.0 L1540.6,632.5 L1543.2,639.2 L1545.0,646.1 L1551.6,647.9 L1558.1,650.1 L1564.3,652.6 L1570.3,655.5 L1576.0,658.8 L1581.5,662.4 L1586.6,666.4 L1591.4,670.6 L1595.9,675.1 L1599.9,679.9 L1603.6,685.0 L1606.8,690.2 L1609.6,695.6 L1611.9,701.2 L1613.8,706.9 L1615.1,712.7 L1616.0,718.6 L1616.4,724.5 L1616.3,730.4 L1615.8,736.3 L1614.7,742.2 L1613.1,747.9 L1611.1,753.6 L1608.6,759.1 L1614.7,766.6 L1620.1,774.5 L1624.6,782.8 L1628.3,791.4 L1631.1,800.2 L1633.0,809.2 L1633.9,818.3 L1634.0,827.5 L1633.1,836.6 L1631.3,845.6 L1628.6,854.5 L1625.0,863.1 L1620.5,871.4 L1615.2,879.3 L1609.2,886.9 L1602.4,893.9 L1594.9,900.4 L1586.8,906.4 L1578.1,911.7 L1568.9,916.3 L1559.2,920.3 L1549.2,923.5 L1538.9,926.0 L1528.5,927.6 L1528.0,935.6 L1526.7,943.4 L1524.6,951.2 L1521.7,958.7 L1518.0,966.0 L1513.6,973.0 L1508.5,979.6 L1502.7,985.9 L1496.3,991.6 L1489.4,996.9 L1481.9,1001.6 L1474.0,1005.7 L1465.7,1009.2 L1457.0,1012.1 L1448.1,1014.3 L1439.0,1015.8 L1429.8,1016.7 L1420.5,1016.8 L1411.2,1016.2 L1402.1,1015.0 L1393.1,1013.0 L1384.3,1010.4 L1375.9,1007.1 L1367.8,1003.2 L1363.9,1012.5 L1359.0,1021.5 L1353.2,1030.1 L1346.5,1038.1 L1338.9,1045.6 L1330.5,1052.4 L1321.5,1058.5 L1311.8,1063.9 L1301.5,1068.4 L1290.8,1072.1 L1279.8,1074.9 L1268.5,1076.9 L1257.0,1077.9 L1245.4,1077.9 L1234.0,1077.1 L1222.6,1075.3 L1211.5,1072.6 L1200.8,1069.0 L1190.4,1064.5 L1180.7,1059.3 L1171.5,1053.3 L1163.0,1046.6 L1155.3,1039.2 L1148.5,1031.2 L1140.4,1035.1 L1132.0,1038.5 L1123.3,1041.4 L1114.5,1043.9 L1105.4,1045.8 L1096.3,1047.2 L1087.0,1048.1 L1077.8,1048.4 L1068.5,1048.2 L1059.2,1047.5 L1050.0,1046.3 L1040.9,1044.6 L1032.0,1042.3 L1023.3,1039.5 L1014.8,1036.3 L1006.6,1032.5 L998.7,1028.3 L991.1,1023.7 L983.9,1018.6 L977.1,1013.2 L970.8,1007.3 L964.9,1001.1 L959.5,994.6 L954.6,987.8 L946.6,988.3 L938.5,988.1 L930.6,987.1 L922.8,985.5 L915.2,983.2 L907.9,980.2 L901.0,976.7 L894.6,972.5 L888.7,967.9 L883.4,962.7 L878.7,957.1 L874.7,951.2 L871.5,944.9 L869.0,938.3 L867.3,931.6 L866.4,924.8 L866.3,917.9 L867.0,911.1 L868.6,904.3 L870.9,897.7 L874.0,891.4 L877.8,885.4 L882.4,879.7 L887.6,874.4 L880.7,870.5 L874.3,866.0 L868.5,861.0 L863.4,855.4 L858.9,849.5 L855.2,843.1 L852.3,836.5 L850.2,829.6 L848.9,822.6 L848.6,815.5 L849.0,808.4 L850.3,801.4 L852.5,794.5 L855.5,787.9 L859.3,781.6 L863.8,775.7 L869.0,770.2 L874.8,765.2 L881.3,760.7 L888.2,756.9 L895.5,753.6 L903.2,751.1 L911.2,749.3 L919.4,748.2Z" fill="none" stroke="#8c8c8c" stroke-width="2.1"/>
<path d="M934.4,881.6 L932.0,881.7 L929.6,881.8 L927.2,881.8 L924.8,881.8 L922.5,881.6 L920.1,881.5 L917.7,881.2 L915.3,880.9 L913.0,880.5 L910.6,880.1 L908.3,879.6 L906.0,879.0 L903.7,878.4 L901.4,877.8 L899.2,877.0 L897.0,876.2 L894.8,875.4 L892.6,874.5 L890.5,873.5 L888.4,872.5 M975.0,981.3 L974.0,981.6 L973.1,982.0 L972.1,982.3 L971.1,982.5 L970.1,982.8 L969.1,983.1 L968.1,983.4 L967.1,983.6 L966.1,983.8 L965.1,984.1 L964.1,984.3 L963.1,984.5 L962.1,984.7 L961.1,984.8 L960.0,985.0 L959.0,985.2 L958.0,985.3 L956.9,985.4 L955.9,985.6 L954.9,985.7 M1148.4,1029.2 L1147.7,1028.3 L1147.0,1027.3 L1146.3,1026.4 L1145.6,1025.4 L1144.9,1024.5 L1144.3,1023.5 L1143.6,1022.5 L1143.0,1021.5 L1142.4,1020.5 L1141.8,1019.6 L1141.2,1018.6 L1140.6,1017.6 L1140.0,1016.5 L1139.4,1015.5 L1138.9,1014.5 L1138.3,1013.5 L1137.8,1012.4 L1137.3,1011.4 L1136.8,1010.4 L1136.3,1009.3 M1372.7,979.6 L1372.6,980.7 L1372.4,981.8 L1372.3,982.9 L1372.2,984.1 L1372.0,985.2 L1371.8,986.3 L1371.6,987.4 L1371.4,988.5 L1371.2,989.6 L1370.9,990.6 L1370.7,991.7 L1370.4,992.8 L1370.2,993.9 L1369.9,995.0 L1369.6,996.1 L1369.2,997.2 L1368.9,998.2 L1368.6,999.3 L1368.2,1000.4 L1367.8,1001.4 M1469.0,844.8 L1474.2,847.1 L1479.3,849.7 L1484.2,852.5 L1488.9,855.6 L1493.4,858.9 L1497.7,862.4 L1501.7,866.1 L1505.5,870.0 L1509.0,874.0 L1512.3,878.3 L1515.2,882.6 L1517.9,887.1 L1520.3,891.8 L1522.4,896.5 L1524.1,901.3 L1525.6,906.3 L1526.7,911.2 L1527.4,916.2 L1527.9,921.3 L1528.0,926.3 M1608.2,757.9 L1607.3,759.7 L1606.4,761.4 L1605.4,763.1 L1604.3,764.8 L1603.3,766.5 L1602.1,768.1 L1600.9,769.8 L1599.7,771.4 L1598.5,772.9 L1597.2,774.5 L1595.8,776.0 L1594.4,777.5 L1593.0,779.0 L1591.5,780.5 L1590.0,781.9 L1588.5,783.3 L1586.9,784.6 L1585.3,785.9 L1583.6,787.2 L1581.9,788.5 M1545.2,644.4 L1545.0,645.2 L1544.8,645.9 L1544.6,646.7 L1544.4,647.4 L1544.2,648.2 L1544.0,648.9 L1543.8,649.7 L1543.6,650.4 L1543.4,651.2 L1543.1,651.9 L1542.9,652.6 L1542.6,653.4 L1542.3,654.1 L1542.1,654.8 L1541.8,655.6 L1541.5,656.3 L1541.2,657.0 L1540.8,657.7 L1540.5,658.4 L1540.2,659.2 M1377.2,627.6 L1377.8,626.6 L1378.3,625.6 L1378.9,624.6 L1379.4,623.6 L1380.0,622.7 L1380.6,621.7 L1381.2,620.8 L1381.9,619.8 L1382.5,618.9 L1383.2,617.9 L1383.9,617.0 L1384.6,616.1 L1385.3,615.2 L1386.0,614.3 L1386.8,613.4 L1387.5,612.6 L1388.3,611.7 L1389.1,610.8 L1389.9,610.0 L1390.7,609.2 M1251.3,636.4 L1251.5,635.5 L1251.7,634.7 L1252.0,633.9 L1252.2,633.1 L1252.5,632.3 L1252.7,631.4 L1253.0,630.6 L1253.3,629.8 L1253.6,629.0 L1254.0,628.2 L1254.3,627.4 L1254.6,626.6 L1255.0,625.9 L1255.4,625.1 L1255.7,624.3 L1256.1,623.5 L1256.5,622.8 L1256.9,622.0 L1257.4,621.2 L1257.8,620.5 M1103.4,641.7 L1104.7,642.4 L1106.0,643.1 L1107.2,643.7 L1108.5,644.4 L1109.7,645.1 L1111.0,645.8 L1112.2,646.6 L1113.4,647.3 L1114.6,648.1 L1115.8,648.8 L1117.0,649.6 L1118.1,650.4 L1119.3,651.2 L1120.4,652.0 L1121.6,652.9 L1122.7,653.7 L1123.8,654.5 L1124.9,655.4 L1126.0,656.3 L1127.0,657.2 M924.1,762.9 L923.9,762.1 L923.6,761.3 L923.3,760.5 L923.1,759.7 L922.8,758.9 L922.6,758.1 L922.4,757.3 L922.1,756.5 L921.9,755.6 L921.7,754.8 L921.5,754.0 L921.3,753.2 L921.1,752.4 L920.9,751.6 L920.8,750.8 L920.6,749.9 L920.5,749.1 L920.3,748.3 L920.2,747.5 L920.0,746.7" fill="none" stroke="#8c8c8c" stroke-width="2.1"/>

  <g stroke="#d8141c" stroke-width="3" fill="none" stroke-linecap="round"><line x1="828" y1="675" x2="884" y2="709"/></g><polygon points="821,670 839,668 831,684" fill="#d8141c"/><polygon points="890,713 872,716 880,700" fill="#d8141c"/>
<g stroke="#d8141c" stroke-width="2.5" fill="none" stroke-linecap="round"><line x1="1611" y1="708" x2="1668" y2="662"/></g><polygon points="1605,713 1607,697 1620,711" fill="#d8141c"/><polygon points="1674,657 1672,673 1659,659" fill="#d8141c"/>
  <defs>
<linearGradient id="hg_gray" x1="0" y1="0" x2="0" y2="1"><stop offset="0" stop-color="#909090"/><stop offset="1" stop-color="#727272"/></linearGradient>
<linearGradient id="hg_orange" x1="0" y1="0" x2="0" y2="1"><stop offset="0" stop-color="#ff6e04"/><stop offset="1" stop-color="#dd5f0e"/></linearGradient>
<linearGradient id="hg_blue" x1="0" y1="0" x2="0" y2="1"><stop offset="0" stop-color="#3d6ea9"/><stop offset="1" stop-color="#2f5f98"/></linearGradient>
<linearGradient id="hg_teal" x1="0" y1="0" x2="0" y2="1"><stop offset="0" stop-color="#2b90aa"/><stop offset="1" stop-color="#1b6b7e"/></linearGradient>
<linearGradient id="hg_green" x1="0" y1="0" x2="0" y2="1"><stop offset="0" stop-color="#9cb62c"/><stop offset="1" stop-color="#6c8820"/></linearGradient>
<clipPath id="hc0"><polygon points="1521.5,500.5 1559.5,423.0 1664.5,423.0 1702.5,500.5 1664.5,578.0 1559.5,578.0"/></clipPath>
<clipPath id="hc1"><polygon points="1833.5,329.5 1871.5,252.0 1976.5,252.0 2014.5,329.5 1976.5,407.0 1871.5,407.0"/></clipPath>
<clipPath id="hc2"><polygon points="1833.5,671.5 1871.5,594.0 1976.5,594.0 2014.5,671.5 1976.5,749.0 1871.5,749.0"/></clipPath>
<clipPath id="hc3"><polygon points="1989.5,586.0 2027.5,508.5 2132.5,508.5 2170.5,586.0 2132.5,663.5 2027.5,663.5"/></clipPath>
<clipPath id="hc4"><polygon points="2145.5,500.5 2183.5,423.0 2288.5,423.0 2326.5,500.5 2288.5,578.0 2183.5,578.0"/></clipPath>
<clipPath id="hc5"><polygon points="2145.5,671.5 2183.5,594.0 2288.5,594.0 2326.5,671.5 2288.5,749.0 2183.5,749.0"/></clipPath>
<clipPath id="hc6"><polygon points="2301.5,415.0 2339.5,337.5 2444.5,337.5 2482.5,415.0 2444.5,492.5 2339.5,492.5"/></clipPath>
</defs>
<g clip-path="url(#hc0)"><g transform="translate(1612,500.5)"><polygon points="-95,-80 95,-80 95,80 -95,80" fill="#dcd8d3"/><polygon points="-52,-80 -29,-80 -29,80 -52,80" fill="#ede3c2"/><polygon points="-29,-80 -24,-80 -24,80 -29,80" fill="#c9b48e"/><polygon points="44,-80 53,-80 53,80 44,80" fill="#c8b898"/><polygon points="53,-80 95,-80 95,80 53,80" fill="#e6e4e0"/><polygon points="-78,-24 -45,-24 -42,44 -78,44" fill="#3c3a68"/><polygon points="-76,-24 -56,-24 -40,10 -18,13 -18,20 -46,22 -72,0" fill="#efeeec"/><polygon points="-66,44 -50,44 -50,78 -66,78" fill="#8a8080"/><ellipse cx="-61.6" cy="-36.7" rx="10.0" ry="11.5" fill="#d8b096"/><path d="M-72.1,-36.7 A10.5,12.1 0 0 1 -51.1,-36.7 L-52.6,-39.2 Q-61.6,-43.2 -70.6,-39.2 Z" fill="#c9ac84"/><polygon points="-50,-20 0,-20 2,78 -48,78" fill="#1b1f2b"/><polygon points="-30,-20 -13,-20 -16,6 -27,6" fill="#a6b6d6"/><polygon points="-24,-18 -19,-18 -19,4 -24,4" fill="#2a3470"/><ellipse cx="-24.5" cy="-36.7" rx="11.0" ry="12.6" fill="#d8b096"/><path d="M-36.0,-36.6 A11.6,13.3 0 0 1 -12.9,-36.6 L-14.6,-39.4 Q-24.5,-43.8 -34.4,-39.4 Z" fill="#3a2a20"/><polygon points="35,-24 79,-24 82,62 36,62 30,18 -2,21 -4,13 32,0" fill="#1a1e2b"/><ellipse cx="49.8" cy="-36.7" rx="12.0" ry="13.8" fill="#d8b096"/><path d="M37.2,-36.5 A12.6,14.5 0 0 1 62.4,-36.5 L60.6,-39.5 Q49.8,-44.3 39.0,-39.5 Z" fill="#a88c76"/><polygon points="-20,12 -4,12 -4,20 -20,20" fill="#d9b69c"/><polygon points="34,58 52,58 52,76 34,76" fill="#f6f6f6"/></g></g>
<polygon points="1644.7,566.3 1649.7,557.3 1661.7,557.3 1666.7,566.3 1661.7,575.3 1649.7,575.3" fill="#ffffff" opacity="0.95"/>
<g clip-path="url(#hc1)"><g transform="translate(1924,329.5)"><polygon points="-95,-80 95,-80 95,80 -95,80" fill="#c3c7cb"/><polygon points="-15.5,-80 9.3,-80 9.3,40 -15.5,40" fill="#d9d2c4"/><polygon points="9.3,-80 31.8,-80 31.8,40 9.3,40" fill="#a9c2ca"/><polygon points="31.8,-80 95,-80 95,40 31.8,40" fill="#9bb0b3"/><polygon points="-83,-1 -45,-1 4,16 7,33 -24,61 -64,67 -85,22" fill="#b5c0cd"/><ellipse cx="-54.9" cy="-20.0" rx="14.0" ry="16.1" fill="#d8b096"/><path d="M-69.6,-19.6 A14.7,16.9 0 0 1 -40.2,-19.6 L-42.3,-23.1 Q-54.9,-28.7 -67.5,-23.1 Z" fill="#938a82"/><polygon points="-56,33 -45,33 -45,76 -56,76" fill="#3a3a3a"/><polygon points="4,1.5 74.6,-1 71,55.5 -13,50" fill="#1e2028"/><polygon points="29.5,8 48.7,8 48.7,50 29.5,50" fill="#ececec"/><polygon points="35,10.5 45,10.5 43,46 37,46" fill="#4a1a22"/><ellipse cx="48.7" cy="-15.5" rx="13.0" ry="14.9" fill="#d8b096"/><path d="M35.1,-15.2 A13.7,15.7 0 0 1 62.4,-15.2 L60.4,-18.4 Q48.7,-23.6 37.0,-18.4 Z" fill="#2e2018"/><polygon points="-24.5,55 55,55 55,72 -24.5,72" fill="#e4e6e8"/><polygon points="-14,70 20,70 20,76 -14,76" fill="#555"/></g></g>
<polygon points="1835.0,328.0 1840.0,319.0 1852.0,319.0 1857.0,328.0 1852.0,337.0 1840.0,337.0" fill="#ffffff" opacity="0.95"/>
<g clip-path="url(#hc2)"><g transform="translate(1924,671.5)"><polygon points="-95,-80 95,-80 95,80 -95,80" fill="#f5f5f5"/><polygon points="-72,-36 -38,-28 -38,62 -58,62 -88,-1" fill="#15171d"/><polygon points="43,-28 88,-28 92,20 72,67 43,67" fill="#16181e"/><polygon points="-56,-21 -2,-21 -2,76 -56,76" fill="#14161c"/><polygon points="-32,-21 -14,-21 -22,-8" fill="#e8e8e8"/><polygon points="-2,-5 43,-5 43,76 -2,76" fill="#13151b"/><polygon points="12,-8 32,-8 22,6" fill="#efefef"/><ellipse cx="-56.0" cy="-42.5" rx="10.0" ry="11.5" fill="#d8b096"/><path d="M-66.5,-42.5 A10.5,12.1 0 0 1 -45.5,-42.5 L-47.0,-45.0 Q-56.0,-49.0 -65.0,-45.0 Z" fill="#1e1a18"/><ellipse cx="-22.2" cy="-35.7" rx="12.0" ry="13.8" fill="#d8b096"/><path d="M-34.8,-35.5 A12.6,14.5 0 0 1 -9.6,-35.5 L-11.4,-38.5 Q-22.2,-43.3 -33.0,-38.5 Z" fill="#1e1a18"/><ellipse cx="21.7" cy="-25.6" rx="11.0" ry="12.6" fill="#d8b096"/><path d="M10.1,-25.5 A11.6,13.3 0 0 1 33.2,-25.5 L31.6,-28.2 Q21.7,-32.7 11.8,-28.2 Z" fill="#2a2018"/><ellipse cx="58.8" cy="-41.4" rx="11.0" ry="12.6" fill="#d8b096"/><path d="M47.2,-41.3 A11.6,13.3 0 0 1 70.3,-41.3 L68.7,-44.0 Q58.8,-48.5 48.9,-44.0 Z" fill="#2a2018"/><ellipse cx="-3" cy="-39" rx="4" ry="6" fill="#d6b4a0"/><ellipse cx="-79" cy="-16" rx="4" ry="6" fill="#d6b4a0"/><polygon points="38,13 46,13 46,38 38,38" fill="#f0f0f0"/></g></g>
<polygon points="1958.3,736.1 1963.3,727.1 1975.3,727.1 1980.3,736.1 1975.3,745.1 1963.3,745.1" fill="#ffffff" opacity="0.95"/>
<g clip-path="url(#hc3)"><g transform="translate(2080,586)"><polygon points="-95,-80 95,-80 95,80 -95,80" fill="#efeeec"/><polygon points="-52.6,-74 54.3,-72 54.3,-66 -52.6,-66" fill="#6e6a66"/><polygon points="-56,-74 -49,-74 -49,-36 -56,-36" fill="#7a7672"/><polygon points="-44.7,-34 -20,-34 -20,5 -44.7,5" fill="#8a8a88"/><ellipse cx="-36.9" cy="-49.6" rx="11.0" ry="12.6" fill="#d8b096"/><path d="M-48.5,-49.5 A11.6,13.3 0 0 1 -25.3,-49.5 L-27.0,-52.2 Q-36.9,-56.7 -46.8,-52.2 Z" fill="#2a201c"/><polygon points="-78.5,-11 -33.5,-11 -31,49.5 -78,49.5" fill="#8e8c94"/><polygon points="-88,-8 -67,-8 -67,20 -88,20" fill="#fafafa"/><polygon points="-62.7,49.5 -31.2,49.5 -31.2,76 -62.7,76" fill="#4a4040"/><ellipse cx="-58.2" cy="-31.6" rx="11.0" ry="12.6" fill="#d8b096"/><path d="M-69.8,-31.5 A11.6,13.3 0 0 1 -46.7,-31.5 L-48.3,-34.2 Q-58.2,-38.7 -68.1,-34.2 Z" fill="#2a201c"/><ellipse cx="63" cy="-8" rx="16" ry="33" fill="#2a2220"/><polygon points="37.4,-9 85.8,-9 85.8,76 37.4,76" fill="#ece6d8"/><ellipse cx="61.0" cy="-21.5" rx="11.0" ry="12.6" fill="#d8b096"/><path d="M49.5,-21.4 A11.6,13.3 0 0 1 72.5,-21.4 L70.9,-24.1 Q61.0,-28.6 51.1,-24.1 Z" fill="#2a2220"/><polygon points="-24.5,-27 38.5,-27 38.5,37 -24.5,37" fill="#efece8"/><polygon points="4.8,-22.5 18.3,-22.5 16,40 7,40" fill="#a42a2a"/><polygon points="-24.5,35 37.4,35 37.4,76 -24.5,76" fill="#27222a"/><ellipse cx="7.0" cy="-42.9" rx="13.0" ry="14.9" fill="#d8b096"/><path d="M-6.7,-42.6 A13.7,15.7 0 0 1 20.6,-42.6 L18.7,-45.9 Q7.0,-51.0 -4.7,-45.9 Z" fill="#2a201c"/><polygon points="-14,14 6,14 6,24 -14,24" fill="#d8b49c"/></g></g>
<polygon points="1992.5,587.3 1997.5,578.3 2009.5,578.3 2014.5,587.3 2009.5,596.3 1997.5,596.3" fill="#ffffff" opacity="0.95"/>
<g clip-path="url(#hc4)"><g transform="translate(2236,500.5)"><polygon points="-95,-80 95,-80 95,80 -95,80" fill="#f1f3f1"/><polygon points="-40,-60 30,-60 30,10 -40,10" fill="#c9d3c8" opacity="0.8"/><ellipse cx="-56" cy="-33" rx="18" ry="25" fill="#1e1a18"/><polygon points="-79.5,-13 -9.7,-13 -9.7,30 -79.5,30" fill="#7a7c80"/><ellipse cx="-52.5" cy="-31.0" rx="13.0" ry="14.9" fill="#d8b096"/><path d="M-66.2,-30.7 A13.7,15.7 0 0 1 -38.9,-30.7 L-40.8,-34.0 Q-52.5,-39.1 -64.2,-34.0 Z" fill="#1e1a18"/><polygon points="8.3,-13 87,-13 87,64 8.3,64" fill="#f2f2f2"/><polygon points="33,0.5 47.7,0.5 45,37.7 36,37.7" fill="#2a3a78"/><ellipse cx="42" cy="-40" rx="20" ry="19" fill="#1a1614"/><ellipse cx="38.7" cy="-32.0" rx="15.0" ry="17.2" fill="#d8b096"/><path d="M23.0,-31.5 A15.8,18.1 0 0 1 54.5,-31.5 L52.2,-35.2 Q38.7,-41.2 25.2,-35.2 Z" fill="#1a1614"/><polygon points="-66,18.5 -5,14 0.4,61 -60,61" fill="#5b8fdb"/><polygon points="-59,60 55.5,60 55.5,76 -59,76" fill="#1e2230"/><polygon points="-25.5,52 0.4,52 0.4,66 -25.5,66" fill="#3a6a30"/><polygon points="-10,14 8,14 8,28 -10,28" fill="#d6ac8c"/></g></g>
<g clip-path="url(#hc5)"><g transform="translate(2236,671.5)"><polygon points="-95,-80 95,-80 95,80 -95,80" fill="#f2f2f1"/><polygon points="-95,-25.5 95,-25.5 95,22 -95,22" fill="#dfb27c"/><polygon points="-76,8.3 -9.7,8.3 -9.7,77 -76,77" fill="#1f2638"/><polygon points="-48,8.3 -32,8.3 -32,26 -48,26" fill="#f0ecec"/><polygon points="-43.5,13 -36.7,13 -37.5,44 -42.5,44" fill="#7a2030"/><ellipse cx="-40.0" cy="-13.2" rx="13.0" ry="14.9" fill="#d8b096"/><path d="M-53.6,-12.9 A13.7,15.7 0 0 1 -26.4,-12.9 L-28.3,-16.1 Q-40.0,-21.4 -51.7,-16.1 Z" fill="#1e1a18"/><polygon points="-14.2,6 31.9,6 31.9,77 -14.2,77" fill="#ebe6de"/><ellipse cx="10.5" cy="-8.7" rx="12.0" ry="13.8" fill="#d8b096"/><path d="M-2.1,-8.5 A12.6,14.5 0 0 1 23.1,-8.5 L21.3,-11.5 Q10.5,-16.3 -0.3,-11.5 Z" fill="#241c18"/><polygon points="30.8,-16.5 82.5,-16.5 82.5,77 30.8,77" fill="#9ca3ac"/><polygon points="40,-16.5 58,-16.5 55,0 43,0" fill="#e8d4dc"/><polygon points="44,-6.4 55.5,-6.4 52,27 47,27" fill="#2a3670"/><ellipse cx="51.0" cy="-41.4" rx="14.0" ry="16.1" fill="#d8b096"/><path d="M36.3,-41.0 A14.7,16.9 0 0 1 65.7,-41.0 L63.6,-44.5 Q51.0,-50.1 38.4,-44.5 Z" fill="#1e1a18"/><polygon points="-48,60 -30,60 -30,72 -48,72" fill="#c89478"/></g></g>
<polygon points="2301.8,673.5 2306.8,664.5 2318.8,664.5 2323.8,673.5 2318.8,682.5 2306.8,682.5" fill="#ffffff" opacity="0.95"/>
<g clip-path="url(#hc6)"><g transform="translate(2392,415)"><polygon points="-95,-80 95,-80 95,80 -95,80" fill="#c6cacc"/><polygon points="-53.6,-72 25.2,-72 25.2,-59.6 -53.6,-59.6" fill="#6e7478"/><polygon points="19.5,-73 28.5,-73 28.5,31.5 19.5,31.5" fill="#707a7e"/><polygon points="53.3,-25 95,-25 95,66 53.3,66" fill="#9ab4b0"/><polygon points="-73,-40 -67,-40 -67,70 -73,70" fill="#8a9498"/><ellipse cx="45" cy="-54" rx="14" ry="16" fill="#2e2220"/><polygon points="25.2,-38 66.8,-38 66.8,20 25.2,20" fill="#9a9ca4"/><polygon points="32,20 52.2,20 52.2,60 32,60" fill="#2a2a30"/><ellipse cx="44.3" cy="-51.9" rx="12.0" ry="13.8" fill="#d8b096"/><path d="M31.7,-51.7 A12.6,14.5 0 0 1 56.9,-51.7 L55.1,-54.7 Q44.3,-59.5 33.5,-54.7 Z" fill="#2e2220"/><polygon points="-67,-2 -14.2,-2 -14.2,71 -67,71" fill="#2a2a30"/><polygon points="-49,0 -31,0 -38,24" fill="#ebe8ea"/><ellipse cx="-40.1" cy="-21.5" rx="14.0" ry="16.1" fill="#d8b096"/><path d="M-54.8,-21.1 A14.7,16.9 0 0 1 -25.4,-21.1 L-27.5,-24.6 Q-40.1,-30.2 -52.7,-24.6 Z" fill="#1e1a18"/><polygon points="-50.2,29 53.3,29 53.3,78 -50.2,78" fill="#1e1e24"/><polygon points="-12,25 15,25 15,76 -12,76" fill="#ededed"/><polygon points="3.8,37 15,37 13,76 5,76" fill="#6a7078"/><ellipse cx="1.5" cy="1.5" rx="17.0" ry="19.5" fill="#d8b096"/><path d="M-16.4,2.2 A17.9,20.5 0 0 1 19.4,2.2 L16.8,-2.0 Q1.5,-8.9 -13.8,-2.0 Z" fill="#1e1a18"/></g></g>
<polygon points="2335.4,353.0 2340.4,344.0 2352.4,344.0 2357.4,353.0 2352.4,362.0 2340.4,362.0" fill="#ffffff" opacity="0.95"/>
<polygon points="1677.5,415.0 1715.5,337.5 1820.5,337.5 1858.5,415.0 1820.5,492.5 1715.5,492.5" fill="url(#hg_gray)"/>
<text x="1768.0" y="400.5" text-anchor="middle" font-family="Liberation Sans, sans-serif" font-weight="bold" font-size="23" fill="#fffaf4" stroke="#fffaf4" stroke-width="0.7">公共技术</text>
<text x="1768.0" y="452.5" text-anchor="middle" font-family="Liberation Sans, sans-serif" font-weight="bold" font-size="23" fill="#fffaf4" stroke="#fffaf4" stroke-width="0.7">服务</text>
<polygon points="1799.6,349.0 1804.6,340.0 1816.6,340.0 1821.6,349.0 1816.6,358.0 1804.6,358.0" fill="#ffffff" opacity="0.95"/>
<polygon points="1677.5,586.0 1715.5,508.5 1820.5,508.5 1858.5,586.0 1820.5,663.5 1715.5,663.5" fill="url(#hg_orange)"/>
<text x="1768.0" y="571.5" text-anchor="middle" font-family="Liberation Sans, sans-serif" font-weight="bold" font-size="23" fill="#fffaf4" stroke="#fffaf4" stroke-width="0.7">产业公共</text>
<text x="1768.0" y="623.5" text-anchor="middle" font-family="Liberation Sans, sans-serif" font-weight="bold" font-size="23" fill="#fffaf4" stroke="#fffaf4" stroke-width="0.7">服务</text>
<polygon points="1679.0,585.0 1684.0,576.0 1696.0,576.0 1701.0,585.0 1696.0,594.0 1684.0,594.0" fill="#ffffff" opacity="0.95"/>
<polygon points="1833.5,500.5 1871.5,423.0 1976.5,423.0 2014.5,500.5 1976.5,578.0 1871.5,578.0" fill="url(#hg_blue)"/>
<text x="1924.0" y="486.0" text-anchor="middle" font-family="Liberation Sans, sans-serif" font-weight="bold" font-size="23" fill="#fffaf4" stroke="#fffaf4" stroke-width="0.7">创新创业</text>
<text x="1924.0" y="538.0" text-anchor="middle" font-family="Liberation Sans, sans-serif" font-weight="bold" font-size="23" fill="#fffaf4" stroke="#fffaf4" stroke-width="0.7">服务</text>
<polygon points="1956.4,566.3 1961.4,557.3 1973.4,557.3 1978.4,566.3 1973.4,575.3 1961.4,575.3" fill="#ffffff" opacity="0.95"/>
<polygon points="1989.5,415.0 2027.5,337.5 2132.5,337.5 2170.5,415.0 2132.5,492.5 2027.5,492.5" fill="url(#hg_gray)"/>
<text x="2080.0" y="400.5" text-anchor="middle" font-family="Liberation Sans, sans-serif" font-weight="bold" font-size="23" fill="#fffaf4" stroke="#fffaf4" stroke-width="0.7">园区基础</text>
<text x="2080.0" y="452.5" text-anchor="middle" font-family="Liberation Sans, sans-serif" font-weight="bold" font-size="23" fill="#fffaf4" stroke="#fffaf4" stroke-width="0.7">服务</text>
<polygon points="2145.0,415.0 2150.0,406.0 2162.0,406.0 2167.0,415.0 2162.0,424.0 2150.0,424.0" fill="#ffffff" opacity="0.95"/>
<polygon points="1989.5,757.0 2027.5,679.5 2132.5,679.5 2170.5,757.0 2132.5,834.5 2027.5,834.5" fill="url(#hg_teal)"/>
<text x="2080.0" y="742.5" text-anchor="middle" font-family="Liberation Sans, sans-serif" font-weight="bold" font-size="23" fill="#fffaf4" stroke="#fffaf4" stroke-width="0.7">园区内部</text>
<text x="2080.0" y="794.5" text-anchor="middle" font-family="Liberation Sans, sans-serif" font-weight="bold" font-size="23" fill="#fffaf4" stroke="#fffaf4" stroke-width="0.7">运营管理</text>
<polygon points="1989.0,758.5 1994.0,749.5 2006.0,749.5 2011.0,758.5 2006.0,767.5 1994.0,767.5" fill="#ffffff" opacity="0.95"/>
<polygon points="2145.5,329.5 2183.5,252.0 2288.5,252.0 2326.5,329.5 2288.5,407.0 2183.5,407.0" fill="url(#hg_orange)"/>
<text x="2236.0" y="315.0" text-anchor="middle" font-family="Liberation Sans, sans-serif" font-weight="bold" font-size="23" fill="#fffaf4" stroke="#fffaf4" stroke-width="0.7">安商稳商</text>
<text x="2236.0" y="367.0" text-anchor="middle" font-family="Liberation Sans, sans-serif" font-weight="bold" font-size="23" fill="#fffaf4" stroke="#fffaf4" stroke-width="0.7">服务</text>
<polygon points="2298.0,330.5 2303.0,321.5 2315.0,321.5 2320.0,330.5 2315.0,339.5 2303.0,339.5" fill="#ffffff" opacity="0.95"/>
<polygon points="2301.5,586.0 2339.5,508.5 2444.5,508.5 2482.5,586.0 2444.5,663.5 2339.5,663.5" fill="url(#hg_green)"/>
<text x="2392.0" y="571.5" text-anchor="middle" font-family="Liberation Sans, sans-serif" font-weight="bold" font-size="23" fill="#fffaf4" stroke="#fffaf4" stroke-width="0.7">社会化</text>
<text x="2392.0" y="623.5" text-anchor="middle" font-family="Liberation Sans, sans-serif" font-weight="bold" font-size="23" fill="#fffaf4" stroke="#fffaf4" stroke-width="0.7">服务</text>
<polygon points="2336.6,655.8 2341.6,646.8 2353.6,646.8 2358.6,655.8 2353.6,664.8 2341.6,664.8" fill="#ffffff" opacity="0.95"/>
  <!-- icon -->
  <circle cx="99.8" cy="122.5" r="37" fill="none" stroke="#e8101a" stroke-width="9.6"/>
  <polygon points="89.4,107.6 96.3,100.3 118.6,122.5 96.3,144.8 89.4,137.1 104,122.5" fill="#e8101a"/>
  <g fill="#1173de">
  <polygon points="2192.2,74.5 2203.8,66.8 2203.8,115.7 2192.2,108.6"/>
  <polygon points="2205.3,66.1 2219.3,57.5 2249.6,75.1 2249.6,89.6 2248.2,91.2"/>
  <polygon points="2236.1,96.6 2249.6,88.9 2249.6,107.4 2236.1,114.6"/>
  <polygon points="2205.3,116.3 2229.6,102.3 2229.6,117.8 2219.3,124.5"/>
</g>
<polygon points="2217.4,79.6 2229.6,86.7 2229.6,99.6 2217.4,93.0" fill="#f0a91c"/>
<g fill="none" stroke="#1173de" stroke-width="4.2" stroke-linejoin="round">
  <path d="M2269.45,80.75 V96.5 Q2269.45,99.9 2272.8,99.9 H2296.1"/>
  <rect x="2303.05" y="82.85" width="25.2" height="17.15" rx="8.57"/>
  <path d="M2337.5,102.1 V86.5 Q2337.5,82.5 2340.7,84.8 L2358.3,97.6 Q2361.3,99.8 2361.3,96.2 V80.75"/>
  <path d="M2371.7,80.75 V96.5 Q2371.7,99.9 2375,99.9 H2398.6"/>
  <rect x="2405" y="83.05" width="25.2" height="16.85" rx="8.42"/>
  <path d="M2439.5,101.9 V87 Q2439.5,83.05 2443.5,83.05 H2460.2 A4.05,4.05 0 0 1 2460.2,91.15 H2453.5 Q2449.5,91.15 2449.5,95 V96 Q2449.5,99.9 2453.5,99.9 H2465.7"/>
  <path d="M2471.1,83.05 H2489.45 A8.425,8.425 0 0 1 2489.45,99.9 H2471.1"/>
</g>

</svg>
<div id="title" class="t">一个基础——智慧园区云数据中心</div>

<svg width="2560" height="1440" viewBox="0 0 2560 1440">
  <circle cx="1043" cy="312.5" r="15.5" fill="#ff0000"/>
  <circle cx="1043" cy="391.5" r="15.5" fill="#ff0000"/>
  <circle cx="1043" cy="470.5" r="15.5" fill="#ff0000"/>
  <circle cx="1043" cy="549.5" r="15.5" fill="#ff0000"/>
  <circle cx="230" cy="1145" r="12" fill="#000"/>
  <circle cx="230" cy="1218" r="12" fill="#000"/>
  <circle cx="1636" cy="1157.5" r="12" fill="#000"/>
  <circle cx="1636" cy="1231" r="12" fill="#000"/>
</svg>
<div class="t rl" style="top:288px">集中管理</div>
<div class="t rl" style="top:367px">灵活部署</div>
<div class="t rl" style="top:446px">节能低碳</div>
<div class="t rl" style="top:525px">安全可靠</div>

<div class="t hd" style="left:214px;top:1049px">实现基础设施虚拟化支持</div>
<div class="t bd" style="left:283.5px;top:1124px">为智慧园区提供基于底层的<span class="r">基础设施服务</span>。</div>
<div class="t bd" style="left:283.5px;top:1198px">为虚拟的设施提供服务，可以<span class="r">合理的分配</span></div>
<div class="t bd" style="left:283.5px;top:1271px"><span class="r">虚拟机资源</span>，有效使用。</div>

<div class="t hd" style="left:1620.5px;top:1068px">提高信息数据管理效率及资源利用率</div>
<div class="t bd" style="left:1689px;top:1137px">减少人力和物力的投入，<span class="r">提高数据利用率</span></div>
<div class="t bd" style="left:1689px;top:1211px">为园区管理服务提供统一的<span class="r">安全IT基础环</span></div>
<div class="t bd" style="left:1689px;top:1285px"><span class="r">境</span>，保障信息安全，提供专业的维护。</div>

<div id="pg" class="t">- 3 -</div>
</body>
</html>
